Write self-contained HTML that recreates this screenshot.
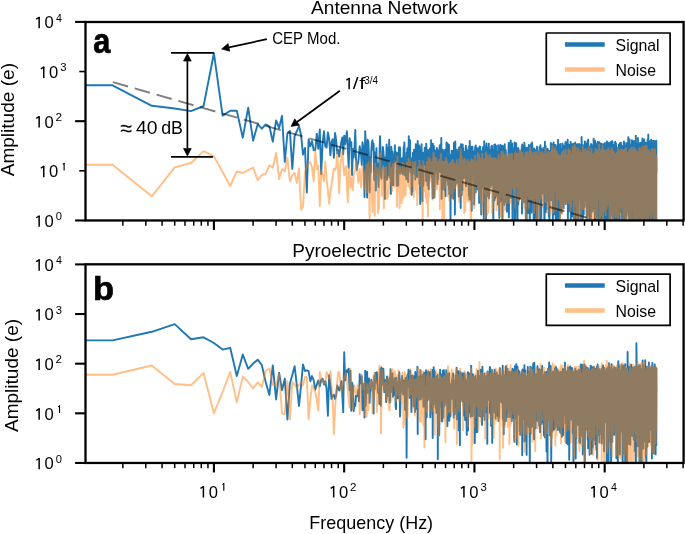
<!DOCTYPE html><html><head><meta charset="utf-8"><style>html,body{margin:0;padding:0;background:#fff;} svg{display:block;will-change:transform;} text{font-family:"Liberation Sans", sans-serif;}</style></head><body>
<svg width="685" height="534" viewBox="0 0 685 534">
<rect width="685" height="534" fill="#fff"/>
<clipPath id="ca"><rect x="85.5" y="22.0" width="598.1" height="198.46"/></clipPath><g clip-path="url(#ca)"><path d="M80.0,85.3L112.5,85.3 151.8,105.8 174.7,108.5 191.0,111.1 203.6,106.0 213.9,53.2 222.6,115.6 230.2,110.8 236.8,110.7 242.8,137.7 248.2,107.7 253.1,140.7 257.7,124.2 261.8,128.7 265.7,124.5 269.4,126.3 272.8,141.8 276.1,120.4 279.1,128.1 282.0,115.8 284.8,161.9 287.4,133.5 289.9,131.0 292.3,168.9 294.6,136.1 296.9,131.0 299.0,126.0 301.1,135.3 303.0,154.6 305.0,147.9 306.8,192.5 308.6,139.5 310.3,146.2 312.0,141.1 313.7,150.4 315.3,150.0 316.8,133.6 318.3,148.7 319.8,129.4 321.2,174.0 322.6,143.1 324.0,131.3 325.3,146.5 326.6,147.6 327.9,132.4 329.1,138.6 330.4,155.4 331.5,142.0 332.7,139.2 333.9,157.7 335.0,133.0 336.1,139.7 337.2,153.2 338.2,150.0 339.2,156.6 340.3,147.6 341.3,142.0 342.3,137.5 343.2,154.3 344.2,135.8 345.1,144.2 346.0,138.0 346.9,131.3 347.8,149.8 348.7,167.8 349.6,138.2 350.4,145.2 351.3,142.2 352.1,175.0 352.9,148.9 353.7,157.7 354.5,148.6 355.3,129.9 356.0,158.3 356.8,170.0 357.5,164.9 358.3,162.2 359.0,154.7 359.7,146.3 360.4,150.0 361.1,154.9 361.8,164.9 362.5,142.3 363.2,146.5 363.9,156.1 364.5,197.1 365.2,131.3 365.8,143.4 366.5,165.3 367.1,197.6 367.7,139.8 368.4,141.7 369.0,157.9 369.6,192.3 370.2,157.8 370.8,172.6 371.3,150.9 371.9,143.0 372.5,140.2 373.1,149.9 373.6,143.7 374.2,180.0 374.7,152.4 375.3,152.9 375.8,190.5 376.4,148.1 376.9,171.1 377.4,172.4 377.9,163.8 378.5,187.1 379.0,169.0 379.5,156.5 380.0,136.1 380.5,149.0 381.0,175.6 381.5,178.7 381.9,165.4 382.4,164.0 382.9,147.0 383.4,151.7 383.9,158.1 384.3,172.7 384.8,198.9 385.2,168.6 385.7,157.2 386.1,163.3 386.6,144.4 387.0,179.7 387.5,147.4 387.9,175.4 388.3,162.7 388.8,159.4 389.2,139.8 389.6,177.3 390.0,157.8 390.5,152.1 390.9,193.9 391.3,146.8 391.7,151.0 392.1,185.0 392.5,152.0 392.9,163.0 393.3,185.3 393.7,166.6 394.1,155.3 394.5,160.2 394.9,145.3 395.2,161.8 395.6,153.4 396.0,161.4 396.4,152.5 396.8,185.9 397.1,170.9 397.5,163.0 397.9,153.0 398.2,185.5 398.6,167.6 398.9,147.3 399.3,167.1 399.7,149.6 400.0,147.4 400.4,173.7 400.7,172.4 401.1,158.6 401.4,159.2 401.7,171.5 402.1,167.8 402.4,158.0 402.8,174.3 403.1,163.4 403.4,158.8 403.7,146.9 404.1,147.2 404.4,142.4 404.7,175.6 405.0,161.2 405.4,163.6 405.7,172.6 406.0,157.6 406.3,179.3 406.6,152.6 406.9,164.8 407.3,148.2 407.6,160.1 407.9,155.4 408.2,182.1 408.5,154.6 408.8,136.3 409.1,167.7 409.4,160.8 409.7,168.5 410.0,140.2 410.3,168.9 410.6,172.5 410.8,158.3 411.1,165.6 411.4,175.8 411.7,194.7 412.0,173.1 412.3,191.6 412.6,162.2 412.8,152.8 413.1,159.6 413.4,164.2 413.7,163.1 414.0,149.6 414.2,158.0 414.5,174.2 414.8,164.3 415.0,158.3 415.3,179.6 415.6,158.4 415.8,144.3 416.1,172.9 416.4,144.5 416.6,151.6 416.9,165.9 417.2,177.1 417.4,164.6 417.7,141.0 417.9,153.2 418.2,151.5 418.4,153.0 418.7,170.4 418.9,150.1 419.2,145.4 419.4,183.9 419.7,162.4 419.9,163.9 420.2,204.1 420.4,151.1 420.7,177.3 420.9,159.8 421.2,146.9 421.4,158.9 421.6,144.2 421.9,180.0 422.1,155.1 422.4,201.2 422.6,152.5 422.8,168.8 423.1,152.7 423.3,185.7 424.0,160.0 424.2,153.3 424.4,161.9 424.7,147.8 424.9,164.2 425.1,163.8 425.4,161.5 425.6,155.0 425.8,157.8 426.0,180.9 426.2,143.6 426.9,155.6 427.1,159.0 427.6,185.2 428.0,150.3 428.2,157.1 428.4,174.7 428.6,188.9 428.8,189.2 429.0,149.9 429.3,181.4 429.9,148.4 430.1,161.8 430.3,173.8 430.9,167.1 431.1,140.1 431.9,177.3 432.1,168.6 432.7,198.2 432.9,143.8 433.1,178.8 433.3,187.4 433.9,146.0 434.1,159.2 434.3,197.5 434.8,179.3 435.0,171.3 435.2,150.4 436.0,162.6 436.2,162.0 436.3,170.9 436.9,148.0 437.1,167.7 437.3,184.0 437.6,150.0 438.0,151.3 438.2,179.3 438.3,153.1 438.9,155.1 439.0,163.3 439.7,145.7 439.9,154.9 440.1,172.1 440.3,144.8 441.0,149.8 441.1,172.4 441.3,138.0 441.6,198.7 442.0,170.3 442.1,170.3 442.6,189.4 442.8,149.6 443.0,156.6 443.1,167.2 443.5,181.7 443.8,151.5 443.9,169.8 444.1,184.6 444.6,190.1 444.7,154.4 444.9,159.9 445.1,177.5 445.2,149.6 445.5,196.2 445.8,158.3 446.0,167.0 446.2,180.4 446.5,142.5 446.9,153.1 447.1,150.4 447.7,143.5 447.8,176.6 448.0,155.9 448.1,185.1 448.7,149.1 448.9,189.5 449.0,145.0 449.2,194.2 449.9,182.6 450.1,159.9 450.5,223.0 450.9,154.7 451.1,178.8 451.2,197.4 451.6,150.8 451.9,151.0 452.1,177.5 452.8,164.8 452.9,170.1 453.0,150.7 453.2,198.5 454.0,142.7 454.1,152.2 454.3,144.5 454.9,214.6 455.1,175.7 455.3,141.4 455.6,184.4 456.0,164.6 456.1,153.9 456.2,176.1 456.9,149.7 457.0,171.9 457.3,182.7 457.4,151.8 457.9,163.4 458.0,154.0 458.8,196.5 458.9,177.4 459.0,147.8 459.3,193.1 459.5,147.1 459.9,172.2 460.0,160.4 460.7,208.1 461.0,144.1 461.1,162.6 461.7,195.1 461.8,159.8 461.9,172.3 462.0,180.9 462.4,190.3 462.7,144.5 463.0,171.6 463.1,150.0 463.2,148.3 463.9,175.8 464.0,178.3 464.9,151.6 465.0,162.5 465.2,173.7 465.8,145.8 465.9,157.2 466.0,186.3 466.4,147.9 467.0,171.0 467.1,178.3 467.2,150.3 467.3,181.7 467.9,158.8 468.0,155.6 468.9,195.7 469.0,160.5 469.1,146.3 469.5,199.3 469.8,141.0 469.9,165.8 470.0,149.0 470.9,200.0 471.0,189.7 471.2,146.8 471.7,210.8 471.9,178.6 472.0,170.9 472.4,146.7 473.0,164.1 473.1,151.4 473.5,151.4 473.9,181.3 474.0,167.6 474.1,174.6 474.1,204.5 474.9,150.7 475.0,161.5 475.1,146.9 475.7,192.4 475.8,145.5 475.9,149.4 476.0,159.8 476.8,151.9 476.9,179.0 477.0,163.1 477.1,188.8 477.7,148.3 478.0,176.5 478.1,169.3 478.3,155.7 478.5,190.5 479.0,189.9 479.0,163.0 479.1,202.9 479.6,146.4 480.0,192.8 480.1,166.8 480.2,146.8 480.5,191.9 480.9,177.6 481.0,176.4 481.2,214.5 481.5,151.1 481.9,168.7 482.0,184.2 482.4,187.4 482.9,147.2 483.0,162.7 483.1,149.3 483.8,218.5 484.0,192.0 484.0,195.9 484.2,141.3 485.0,162.4 485.1,167.8 485.6,149.6 486.0,221.3 486.1,156.9 486.5,143.5 486.8,196.2 487.0,184.7 487.1,168.8 487.5,195.9 487.7,147.7 488.0,160.7 488.0,155.5 488.8,198.4 488.8,143.6 489.0,167.5 489.1,172.4 489.1,194.9 489.2,155.7 490.0,162.1 490.1,154.7 490.4,149.4 490.8,187.0 491.0,166.9 491.1,169.2 491.3,146.8 492.0,174.8 492.0,145.6 492.8,185.5 493.0,160.7 493.1,154.3 493.3,220.6 493.8,149.4 493.9,187.3 494.0,155.1 494.3,144.7 494.5,200.2 495.0,174.0 495.1,153.1 495.2,144.5 495.4,197.9 496.0,153.7 496.0,145.6 496.6,195.9 497.0,177.5 497.1,181.4 497.9,151.1 498.0,204.5 498.1,190.9 498.2,145.1 498.7,195.2 499.0,151.3 499.0,184.7 499.3,217.7 499.6,146.9 499.9,202.3 500.0,164.7 500.4,144.7 500.4,200.7 501.0,179.7 501.0,178.6 501.7,198.2 502.0,145.7 502.0,163.7 502.4,221.7 502.7,148.3 503.0,165.4 503.0,160.2 503.3,192.8 503.6,146.3 503.9,163.2 504.0,162.8 504.4,204.9 504.7,144.1 504.9,159.6 505.0,163.7 505.7,201.9 505.8,150.2 506.0,173.4 506.0,159.1 506.1,153.1 506.2,190.8 507.0,189.2 507.0,211.8 507.1,156.9 508.0,178.6 508.0,172.8 508.7,142.8 508.9,217.4 509.0,204.7 509.0,167.1 509.2,197.7 509.4,145.0 510.0,149.7 510.0,153.7 510.5,197.7 510.7,140.4 511.0,190.0 511.0,166.5 511.3,153.1 512.0,198.2 512.0,183.1 512.1,143.4 512.6,250.3 513.0,154.4 513.0,152.6 513.6,195.7 513.8,148.1 514.0,149.8 514.0,164.6 514.5,142.4 514.8,218.7 515.0,154.9 515.0,164.2 515.1,144.7 515.2,226.6 516.0,162.5 516.0,163.3 516.2,143.1 516.2,198.8 517.0,151.2 517.0,162.3 517.5,225.8 517.8,148.2 518.0,160.2 518.0,165.4 518.2,147.9 518.3,204.2 519.0,175.1 519.0,199.7 519.1,150.1 520.0,153.9 520.0,172.9 520.1,198.0 520.5,151.5 521.0,158.7 521.0,191.4 521.8,146.4 522.0,213.5 522.0,163.4 522.0,154.7 522.1,200.7 522.2,144.4 523.0,169.7 523.0,149.2 523.5,145.6 523.9,202.3 524.0,202.1 524.0,160.4 524.1,198.8 524.3,142.7 525.0,150.2 525.0,169.5 525.4,148.3 525.9,232.4 526.0,215.8 526.0,164.2 526.6,250.5 526.9,147.6 527.0,162.8 527.0,161.6 527.9,148.7 527.9,198.0 528.0,171.2 528.0,165.5 528.3,213.0 528.8,145.0 529.0,157.7 529.0,168.0 529.2,146.3 529.8,226.0 530.0,156.4 530.0,152.9 530.7,184.0 530.9,144.1 531.0,159.8 531.0,174.4 531.5,212.6 531.9,148.9 532.0,157.8 532.0,196.0 532.1,142.5 533.0,189.3 533.0,164.1 533.2,148.4 533.7,233.7 534.0,163.5 534.0,170.5 534.1,221.3 534.2,148.5 535.0,174.7 535.0,177.8 535.5,215.5 535.8,152.5 536.0,163.1 536.0,150.0 536.1,219.6 537.0,205.8 537.0,146.7 537.6,221.3 538.0,174.4 538.0,170.6 538.6,151.2 538.6,203.0 539.0,168.1 539.0,182.2 539.4,187.1 539.5,147.3 540.0,148.3 540.0,223.1 540.5,145.2 541.0,159.2 541.0,154.4 541.2,224.4 541.7,149.3 542.0,178.3 542.0,166.8 542.1,189.2 542.3,150.9 543.0,154.0 543.0,152.2 543.3,193.7 543.4,148.0 544.0,186.1 544.0,166.0 544.5,250.5 544.9,141.7 545.0,168.5 545.0,167.3 545.6,145.9 545.8,212.0 546.0,154.3 546.0,161.9 546.4,151.4 546.5,209.1 547.0,151.6 547.0,158.4 547.1,200.8 547.5,148.8 548.0,167.8 548.0,155.5 548.6,150.6 548.9,216.7 549.0,161.6 549.0,155.8 549.4,226.4 550.0,150.8 550.0,196.4 550.7,200.3 550.8,142.9 551.0,183.7 551.0,174.2 551.2,200.0 552.0,144.3 552.0,187.5 552.0,158.1 552.5,147.3 552.9,237.3 553.0,153.7 553.0,181.3 553.6,142.5 553.7,212.0 554.0,177.2 554.0,214.4 554.7,145.1 555.0,153.9 555.0,165.4 555.6,145.0 555.8,228.5 556.0,194.8 556.0,180.2 556.1,146.9 556.4,237.1 557.0,167.0 557.0,182.1 557.2,212.5 557.7,146.2 558.0,166.5 558.0,171.6 558.0,139.7 558.5,250.5 559.0,156.5 559.0,161.7 559.8,217.8 560.0,144.5 560.0,165.8 560.0,148.5 560.3,144.0 560.5,197.7 561.0,167.8 561.0,168.7 561.2,148.4 561.6,212.7 562.0,151.2 562.0,152.5 562.4,204.8 562.5,143.4 563.0,145.9 563.0,161.7 563.2,145.5 563.7,208.2 564.0,150.5 564.0,160.2 564.4,198.3 564.6,149.2 565.0,169.8 565.0,147.6 565.6,141.9 565.7,204.0 566.0,182.8 566.0,149.7 566.2,143.5 566.2,201.9 567.0,160.5 567.0,151.4 567.7,139.7 567.9,218.8 568.0,177.2 568.0,159.1 568.3,144.3 568.7,210.4 569.0,153.7 569.0,177.3 569.6,144.9 569.7,211.4 570.0,185.7 570.0,175.2 570.7,142.0 570.8,230.3 571.0,162.0 571.0,174.1 571.3,149.2 571.5,214.0 572.0,151.0 572.0,151.7 572.1,144.2 572.4,216.3 573.0,144.5 573.0,164.9 573.5,143.7 573.7,228.9 574.0,178.4 574.0,161.4 574.1,231.2 574.3,144.7 575.0,157.9 575.0,155.2 575.2,142.4 575.8,221.0 576.0,202.5 576.0,172.1 576.1,215.9 576.6,144.6 577.0,171.3 577.0,158.1 577.4,144.2 577.6,222.1 578.0,155.6 578.0,177.8 578.4,243.3 578.8,145.6 579.0,157.1 579.0,199.5 579.1,144.0 579.9,199.5 580.0,172.8 580.0,157.9 580.2,145.3 580.8,220.2 581.0,162.0 581.0,157.2 581.2,221.6 581.6,136.9 582.0,165.8 582.0,174.7 582.7,145.0 582.8,220.0 583.0,171.9 583.0,163.8 583.1,145.2 583.7,214.3 584.0,170.5 584.0,206.7 584.7,206.7 584.9,141.5 585.0,182.3 585.0,178.6 585.0,201.0 585.9,143.6 586.0,171.2 586.0,158.9 586.5,145.1 586.9,221.1 587.0,185.9 587.0,160.8 587.5,140.9 587.8,215.6 588.0,153.8 588.0,166.9 588.2,139.8 588.7,212.0 589.0,182.1 589.0,190.5 589.1,146.4 589.3,223.6 590.0,198.2 590.0,152.6 590.9,238.3 591.0,144.0 591.0,158.1 591.0,173.9 591.3,210.6 591.3,144.8 592.0,159.5 592.0,160.1 592.2,145.4 592.4,211.5 593.0,168.0 593.0,153.1 593.6,208.9 593.6,138.6 594.0,173.4 594.0,169.8 594.8,226.9 594.9,145.0 595.0,162.9 595.0,180.3 595.2,140.6 595.9,228.1 596.0,156.3 596.0,165.7 596.0,143.5 596.4,209.7 597.0,209.3 597.0,177.3 597.9,220.0 597.9,141.6 598.0,187.7 598.0,168.4 598.5,242.5 598.7,142.7 599.0,154.5 599.0,159.9 599.1,240.1 599.5,142.2 600.0,158.1 600.0,171.8 600.0,227.4 600.5,144.1 601.0,161.7 601.0,179.0 601.5,218.8 601.7,143.8 602.0,150.4 602.0,163.6 602.2,145.6 602.4,236.3 603.0,148.3 603.0,175.0 603.5,144.2 603.8,250.5 604.0,175.3 604.0,161.5 604.7,219.7 604.9,142.9 605.0,183.2 605.0,190.1 605.6,209.3 605.7,145.9 606.0,169.3 606.0,148.5 606.6,222.4 606.9,141.5 607.0,178.9 607.0,168.6 607.3,144.9 607.9,222.5 608.0,173.9 608.0,201.1 608.0,142.7 608.6,217.8 609.0,167.6 609.0,152.8 609.4,234.1 609.6,143.2 610.0,178.7 610.0,177.2 610.1,250.5 610.6,141.9 611.0,166.7 611.0,155.4 611.3,142.7 611.4,214.7 612.0,180.6 612.0,143.3 612.2,140.9 612.6,241.8 613.0,172.0 613.0,164.9 613.3,144.9 613.7,219.0 614.0,149.9 614.0,250.5 614.6,142.5 615.0,175.3 615.0,202.3 615.3,141.7 615.5,217.4 616.0,159.3 616.0,150.4 616.0,143.5 616.1,250.5 617.0,150.7 617.0,169.0 617.2,147.8 617.7,221.8 618.0,170.7 618.0,158.7 618.5,223.8 618.8,144.7 619.0,201.5 619.0,156.1 619.7,220.7 619.8,143.3 620.0,168.3 620.0,162.8 620.7,211.7 620.9,142.6 621.0,172.7 621.0,166.6 621.6,209.1 621.9,145.6 622.0,150.3 622.0,168.3 622.1,223.9 623.0,148.2 623.0,169.2 623.0,149.1 623.8,250.5 623.8,141.5 624.0,146.1 624.0,159.0 624.5,142.4 624.7,239.3 625.0,154.7 625.0,189.2 625.7,145.6 626.0,250.5 626.0,159.7 626.0,168.8 626.5,215.9 626.6,143.3 627.0,163.2 627.0,175.5 627.5,212.1 628.0,143.6 628.0,167.9 628.0,163.4 628.3,137.3 628.8,218.5 629.0,163.8 629.0,179.4 629.2,234.6 629.6,139.5 630.0,158.9 630.0,161.5 630.3,220.2 630.5,144.4 631.0,161.7 631.0,145.0 631.4,224.6 632.0,140.1 632.0,186.3 632.0,173.5 632.1,145.5 632.3,221.4 633.0,152.9 633.0,164.8 633.0,227.0 633.9,141.0 634.0,146.7 634.0,171.3 634.3,143.5 634.8,231.8 635.0,167.4 635.0,151.6 635.3,204.0 635.8,135.6 636.0,159.9 636.0,161.0 636.3,249.0 636.5,143.6 637.0,179.4 637.0,161.4 637.8,244.9 637.9,138.0 638.0,170.1 638.0,189.9 638.1,250.5 638.7,144.7 639.0,176.6 639.0,180.9 639.7,250.3 639.7,143.1 640.0,167.8 640.0,174.9 640.4,216.0 640.9,142.7 641.0,166.0 641.0,209.1 641.1,144.6 641.6,232.5 642.0,159.4 642.0,159.9 642.4,138.4 642.5,223.6 643.0,156.0 643.0,174.3 643.6,141.9 643.9,229.6 644.0,194.7 644.0,158.9 644.2,139.5 644.5,234.0 645.0,182.6 645.0,172.3 645.9,142.7 645.9,230.4 646.0,166.9 646.0,171.4 646.3,143.8 646.6,250.5 647.0,167.1 647.0,167.5 647.1,241.6 647.6,139.4 648.0,156.9 648.0,164.0 648.3,134.4 648.6,224.2 649.0,176.5 649.0,163.8 649.1,241.8 649.7,141.9 650.0,161.0 650.0,166.5 650.0,141.2 650.5,250.5 651.0,153.9 651.0,174.5 651.2,139.8 651.3,250.5 652.0,158.3 652.0,165.7 652.7,142.6 652.9,249.5 653.0,186.9 653.0,166.5 653.2,140.6 653.8,250.5 654.0,141.5 654.0,173.0 654.1,141.0 654.2,250.5 655.0,185.2 655.0,161.9 655.3,141.8 655.7,238.3 656.0,208.7 656.0,144.0 656.2,233.1 656.3,140.8 656.5,173.1" fill="none" stroke="#1f77b4" stroke-width="1.9" stroke-linejoin="round"/><path d="M80.0,164.8L112.5,164.8 151.8,196.3 174.7,167.4 191.0,163.0 203.6,151.1 213.9,156.4 222.6,172.0 230.2,186.0 236.8,171.5 242.8,173.0 248.2,170.2 253.1,167.6 257.7,180.2 261.8,175.0 265.7,173.8 269.4,165.3 272.8,167.8 276.1,153.0 279.1,179.1 282.0,169.1 284.8,171.4 287.4,157.6 289.9,181.4 292.3,175.3 294.6,173.0 296.9,183.0 299.0,168.4 301.1,209.8 303.0,206.7 305.0,172.0 306.8,165.6 308.6,163.9 310.3,162.2 312.0,167.2 313.7,181.5 315.3,150.5 316.8,169.2 318.3,165.4 319.8,206.2 321.2,170.8 322.6,175.0 324.0,181.5 325.3,161.5 326.6,178.5 327.9,190.0 329.1,203.8 330.4,192.0 331.5,184.6 332.7,176.0 333.9,168.5 335.0,170.0 336.1,167.7 337.2,151.5 338.2,172.0 339.2,193.1 340.3,165.0 341.3,158.0 342.3,150.0 343.2,163.0 344.2,175.4 345.1,170.0 346.0,166.2 346.9,185.0 347.8,202.3 348.7,167.7 349.6,169.8 350.4,188.0 351.3,182.5 352.1,177.4 352.9,190.0 353.7,174.5 354.5,172.9 355.3,169.9 356.0,161.2 356.8,166.0 357.5,172.0 358.3,182.8 359.0,180.5 359.7,168.9 360.4,177.6 361.1,187.5 361.8,179.4 362.5,167.0 363.2,174.0 363.9,173.0 364.5,188.7 365.2,171.0 365.8,175.0 366.5,165.3 367.1,192.6 367.7,175.1 368.4,162.2 369.0,179.7 369.6,218.3 370.2,167.5 370.8,185.7 371.3,159.0 371.9,192.7 372.5,212.2 373.1,183.6 373.6,187.8 374.2,172.7 374.7,215.7 375.3,163.7 375.8,175.2 376.4,168.4 376.9,172.9 377.4,168.5 377.9,212.9 378.5,170.0 379.0,209.0 379.5,183.5 380.0,153.1 380.5,166.3 381.0,169.0 381.5,174.6 381.9,195.7 382.4,170.2 382.9,173.9 383.4,187.4 383.9,208.4 384.3,167.9 384.8,169.0 385.2,181.6 385.7,194.8 386.1,167.0 386.6,186.0 387.0,199.1 387.5,195.7 387.9,190.3 388.3,196.5 388.8,189.3 389.2,179.1 389.6,161.4 390.0,178.5 390.5,184.6 390.9,169.6 391.3,167.7 391.7,181.4 392.1,191.0 392.5,170.0 392.9,164.2 393.3,172.4 393.7,167.5 394.1,169.0 394.5,186.9 394.9,162.6 395.2,175.8 395.6,161.6 396.0,176.4 396.4,170.5 396.8,194.3 397.1,206.7 397.5,156.3 397.9,173.6 398.2,189.3 398.6,191.3 398.9,182.9 399.3,168.1 399.7,208.3 400.0,167.3 400.4,172.6 400.7,173.5 401.1,174.7 401.4,177.6 401.7,203.1 402.1,175.8 402.4,170.1 402.8,162.9 403.1,172.0 403.4,193.9 403.7,197.6 404.1,165.2 404.4,171.7 404.7,174.3 405.0,174.0 405.4,171.8 405.7,195.4 406.0,176.3 406.3,170.2 406.6,175.6 406.9,162.9 407.3,169.3 407.6,177.1 407.9,167.6 408.2,186.3 408.5,158.8 408.8,171.5 409.1,178.2 409.4,159.2 409.7,188.2 410.0,188.9 410.3,162.7 410.6,193.7 410.8,172.0 411.1,170.6 411.4,185.2 411.7,174.3 412.0,168.3 412.3,173.4 412.6,186.2 412.8,161.9 413.1,172.0 413.4,184.1 413.7,197.2 414.0,174.5 414.2,187.2 414.5,182.0 414.8,177.4 415.0,162.2 415.3,162.0 415.6,189.8 415.8,183.2 416.1,179.4 416.4,182.1 416.6,193.3 416.9,177.0 417.2,205.0 417.4,188.0 417.7,194.1 417.9,167.1 418.2,181.4 418.4,171.4 418.7,170.3 418.9,167.9 419.2,179.6 419.4,160.4 419.7,165.8 419.9,171.6 420.2,185.3 420.4,172.6 420.7,168.2 420.9,166.0 421.2,178.7 421.4,184.3 421.6,167.3 421.9,193.4 422.1,185.3 422.4,177.1 422.6,238.9 422.8,172.4 423.1,186.3 423.3,161.3 424.0,180.0 424.2,191.0 424.4,179.3 424.7,191.0 424.9,166.7 425.1,183.5 425.4,171.1 425.6,197.0 425.8,166.3 426.0,181.4 426.5,202.8 426.9,162.2 427.1,170.5 427.3,166.3 428.0,216.2 428.2,189.0 428.4,174.8 428.6,157.5 428.8,197.0 429.0,181.9 429.3,183.2 429.7,174.3 429.9,177.7 430.1,168.0 430.3,159.5 430.5,174.3 430.9,172.3 431.1,178.6 431.7,168.8 431.9,181.3 432.1,162.2 432.5,199.6 432.9,189.2 433.1,159.3 433.7,152.6 433.9,177.8 434.1,183.2 434.3,159.4 434.6,197.4 434.8,171.1 435.0,169.7 435.2,157.5 436.0,179.6 436.2,158.6 436.9,189.3 437.1,182.3 437.3,161.8 437.4,182.4 438.0,170.4 438.2,183.3 438.5,172.3 438.9,184.4 439.0,165.0 439.4,159.8 439.9,209.2 440.1,165.8 440.4,194.8 441.0,153.7 441.1,168.7 441.3,165.7 441.6,196.7 442.0,172.2 442.1,161.2 442.3,223.9 443.0,163.1 443.1,170.6 443.5,183.7 443.9,162.2 444.1,219.0 444.3,161.7 444.9,181.3 445.1,163.1 445.2,187.1 445.8,160.8 446.0,171.7 446.3,157.6 446.5,182.1 446.9,170.5 447.1,161.2 448.0,196.2 448.1,166.5 448.3,164.4 448.9,197.0 449.0,166.9 449.3,200.4 449.9,181.0 450.1,163.1 450.6,178.3 450.9,171.1 451.1,171.9 451.2,193.4 451.6,161.1 451.9,169.0 452.1,185.0 452.2,160.3 452.3,198.6 452.9,174.4 453.0,160.0 453.3,191.3 454.0,167.7 454.1,166.3 454.3,163.9 454.4,188.4 454.9,170.0 455.1,172.2 455.3,187.9 455.6,167.3 456.0,170.3 456.1,173.8 456.4,162.3 456.6,175.7 456.9,170.5 457.0,160.3 457.3,185.9 457.9,178.7 458.0,186.1 458.3,164.6 458.9,168.7 459.0,189.2 459.2,202.2 459.6,158.8 459.9,172.2 460.0,196.4 460.7,148.9 461.0,170.2 461.1,161.9 461.2,193.8 461.8,156.5 461.9,185.9 462.0,161.5 462.4,185.7 463.0,182.3 463.1,180.3 463.5,165.0 463.7,202.1 463.9,170.2 464.0,159.6 464.2,213.0 464.6,158.7 464.9,161.4 465.0,175.6 465.3,210.7 465.8,169.9 465.9,173.9 466.0,182.0 466.2,166.6 466.4,198.7 467.0,179.3 467.1,163.3 467.5,159.7 467.8,201.0 467.9,171.0 468.0,160.9 468.5,190.4 469.0,165.0 469.1,180.8 469.3,201.5 469.9,162.2 470.0,166.1 470.7,221.3 470.9,167.1 471.0,174.2 471.2,226.0 471.3,159.3 471.9,177.3 472.0,174.6 472.5,200.8 472.6,164.1 473.0,164.2 473.1,164.4 473.2,160.0 473.9,193.9 474.0,182.4 474.1,164.0 474.3,208.2 475.0,185.5 475.1,155.6 475.9,185.2 476.0,183.7 476.4,161.8 476.6,184.5 476.9,165.9 477.0,164.9 477.7,188.6 478.0,153.2 478.1,155.7 479.0,192.8 479.0,170.1 479.1,155.4 479.9,195.8 480.0,161.1 480.1,168.7 480.3,158.4 480.4,200.9 480.9,177.6 481.0,195.4 481.7,159.6 481.8,213.1 481.9,192.8 482.0,167.1 482.3,153.8 482.8,201.7 483.0,184.6 483.1,173.1 483.5,159.8 483.8,193.2 484.0,176.3 484.0,167.7 484.2,159.0 484.5,192.2 485.0,184.2 485.1,173.2 485.6,222.6 485.8,152.7 486.0,174.6 486.1,184.9 486.4,191.6 487.0,157.3 487.1,161.3 487.1,215.1 487.5,155.1 488.0,173.0 488.0,158.3 488.4,212.6 489.0,168.7 489.1,192.7 489.7,154.9 490.0,167.4 490.1,170.4 490.3,160.6 491.0,193.8 491.1,179.6 491.6,158.3 491.7,183.9 492.0,171.3 492.0,175.1 492.1,213.4 492.2,158.0 493.0,164.1 493.1,166.5 493.4,207.9 493.9,161.7 493.9,166.7 494.0,166.7 494.4,158.3 494.5,196.3 495.0,180.8 495.1,184.5 495.4,191.0 495.8,159.0 496.0,190.5 496.0,164.8 496.2,162.1 496.5,210.3 497.0,176.8 497.1,162.0 497.1,196.4 497.5,161.3 498.0,184.7 498.1,157.4 498.5,201.1 498.6,155.0 499.0,167.7 499.0,161.4 499.2,207.5 499.8,161.2 499.9,165.3 500.0,170.1 500.2,216.7 501.0,156.7 501.0,171.3 501.4,152.0 501.8,193.3 502.0,167.2 502.0,168.9 502.6,198.8 502.8,151.8 503.0,160.9 503.0,230.9 503.9,154.6 503.9,174.6 504.0,172.7 504.2,155.8 504.2,207.9 504.9,183.4 505.0,184.5 505.2,209.9 505.7,158.6 506.0,175.0 506.0,168.1 506.1,154.0 507.0,202.5 507.0,172.8 507.6,155.7 507.7,182.6 508.0,172.7 508.0,164.3 508.6,196.0 508.9,155.4 509.0,169.1 509.0,163.3 509.2,203.0 509.6,153.9 510.0,170.0 510.0,157.3 510.5,155.1 510.9,203.0 511.0,178.8 511.0,176.1 511.4,189.6 511.4,162.0 512.0,165.7 512.0,153.6 512.4,187.6 513.0,164.3 513.0,168.2 513.1,160.4 514.0,196.3 514.0,168.7 514.8,198.1 514.9,153.2 515.0,175.8 515.0,160.9 515.4,207.9 515.7,152.5 516.0,179.8 516.0,163.2 516.4,153.6 516.8,186.6 517.0,177.7 517.0,178.9 517.4,185.5 517.9,153.8 518.0,166.0 518.0,159.5 518.1,200.8 518.6,154.3 519.0,175.3 519.0,171.2 519.5,182.6 519.6,149.2 520.0,155.0 520.0,163.2 520.3,198.6 520.3,155.7 521.0,159.5 521.0,152.0 521.9,200.5 522.0,175.1 522.0,176.9 522.3,202.0 522.6,152.7 523.0,167.0 523.0,193.1 523.8,158.6 524.0,189.4 524.0,163.3 524.1,207.8 524.3,157.0 525.0,174.9 525.0,168.7 525.7,152.6 525.9,233.0 526.0,190.4 526.0,162.8 526.2,200.2 526.3,160.7 527.0,165.5 527.0,180.0 527.1,196.1 527.6,151.6 528.0,164.6 528.0,159.5 528.7,207.7 528.9,153.6 529.0,161.2 529.0,163.8 529.5,157.1 529.9,186.2 530.0,174.8 530.0,149.1 530.2,147.7 530.7,199.3 531.0,159.9 531.0,185.7 531.1,151.9 531.2,199.0 532.0,176.7 532.0,180.6 532.2,156.1 532.4,193.8 533.0,175.3 533.0,166.3 533.1,202.9 533.2,152.9 534.0,172.9 534.0,167.4 534.2,212.8 535.0,152.3 535.0,191.8 535.2,198.4 535.4,156.2 536.0,156.5 536.0,183.7 536.9,192.7 537.0,151.7 537.0,165.1 537.0,219.7 537.9,156.3 538.0,163.5 538.0,189.8 538.6,156.9 538.9,203.9 539.0,177.2 539.0,183.5 539.3,228.7 539.5,151.5 540.0,187.6 540.0,184.8 540.7,152.0 541.0,193.4 541.0,181.3 541.0,177.2 541.3,155.8 541.4,198.4 542.0,174.1 542.0,162.6 542.6,152.1 542.9,206.4 543.0,190.7 543.0,183.4 543.0,155.6 543.3,189.0 544.0,179.7 544.0,158.9 544.5,154.1 544.9,193.5 545.0,179.1 545.0,169.8 545.3,202.0 545.4,148.5 546.0,168.8 546.0,157.7 546.4,154.2 546.7,201.6 547.0,176.4 547.0,163.6 547.6,212.8 547.8,154.1 548.0,155.2 548.0,166.0 548.3,151.7 548.4,204.9 549.0,162.2 549.0,176.6 549.4,206.6 549.5,155.7 550.0,163.3 550.0,169.9 550.1,152.4 550.2,214.6 551.0,176.2 551.0,178.9 551.0,198.7 551.1,151.4 552.0,159.3 552.0,155.4 552.4,145.5 552.6,213.3 553.0,195.6 553.0,168.7 553.2,149.4 553.8,211.8 554.0,179.4 554.0,188.4 554.7,151.8 555.0,178.4 555.0,167.0 555.1,147.6 555.3,190.6 556.0,166.3 556.0,186.5 556.5,210.0 556.8,150.9 557.0,159.0 557.0,189.8 557.3,207.7 557.8,154.2 558.0,170.5 558.0,167.6 558.3,155.0 558.5,198.7 559.0,164.3 559.0,177.3 559.2,194.5 559.9,155.8 560.0,185.9 560.0,168.3 560.0,240.7 560.9,155.9 561.0,184.4 561.0,194.7 561.6,213.5 561.9,153.7 562.0,181.8 562.0,182.6 562.2,152.2 562.2,213.8 563.0,172.7 563.0,198.4 563.1,208.4 563.4,150.9 564.0,168.9 564.0,171.5 564.5,204.7 564.9,156.4 565.0,183.0 565.0,167.9 565.5,149.4 565.6,198.9 566.0,180.2 566.0,164.7 566.0,203.9 566.1,154.7 567.0,167.7 567.0,161.5 567.9,155.5 567.9,201.5 568.0,174.8 568.0,178.5 568.3,203.2 568.4,149.2 569.0,182.0 569.0,179.9 569.3,197.7 569.5,151.2 570.0,169.0 570.0,168.7 570.1,150.8 570.4,210.9 571.0,170.5 571.0,171.3 571.1,154.7 571.4,206.6 572.0,166.6 572.0,188.6 572.7,146.9 572.7,199.2 573.0,167.4 573.0,176.0 573.8,153.2 574.0,225.7 574.0,173.2 574.0,169.9 574.6,145.0 574.8,205.9 575.0,168.1 575.0,176.8 575.1,193.1 575.9,148.0 576.0,171.8 576.0,170.4 576.2,153.2 576.4,219.3 577.0,180.9 577.0,203.3 577.3,229.6 577.7,155.5 578.0,191.0 578.0,165.3 578.0,147.9 578.4,216.4 579.0,163.8 579.0,165.1 579.8,211.0 580.0,150.4 580.0,165.6 580.0,166.4 580.3,233.6 580.9,155.4 581.0,173.8 581.0,189.0 581.0,218.8 581.9,152.7 582.0,168.1 582.0,178.5 582.1,209.3 582.8,146.3 583.0,173.2 583.0,156.8 583.7,153.4 583.8,209.0 584.0,164.5 584.0,188.2 584.6,151.2 584.7,200.7 585.0,171.7 585.0,188.7 585.2,149.1 585.6,206.2 586.0,166.7 586.0,169.7 586.1,152.4 586.1,236.7 587.0,160.5 587.0,167.9 587.0,151.2 587.7,217.3 588.0,162.0 588.0,170.8 588.3,217.5 588.6,147.2 589.0,157.3 589.0,180.0 589.0,203.0 589.2,153.2 590.0,166.2 590.0,173.4 590.4,152.5 590.4,228.7 591.0,191.1 591.0,188.2 591.1,216.4 591.4,148.9 592.0,202.3 592.0,190.1 592.0,241.4 593.0,154.5 593.0,158.0 593.0,183.6 593.3,209.8 593.6,154.6 594.0,177.2 594.0,176.0 594.8,152.7 595.0,220.2 595.0,163.7 595.0,168.1 595.3,237.3 595.5,149.0 596.0,194.7 596.0,177.4 596.2,212.0 596.8,151.4 597.0,193.2 597.0,183.5 597.4,234.3 597.7,150.4 598.0,164.9 598.0,162.8 598.8,199.8 598.8,151.6 599.0,171.9 599.0,179.3 599.2,144.8 600.0,228.6 600.0,188.5 600.0,165.0 600.4,151.9 600.8,213.1 601.0,165.5 601.0,173.2 601.3,215.4 601.7,149.7 602.0,158.5 602.0,180.6 602.6,145.4 603.0,229.1 603.0,167.8 603.0,187.0 603.4,208.1 603.5,151.0 604.0,159.2 604.0,187.0 604.2,210.7 604.3,150.4 605.0,186.3 605.0,170.5 605.6,215.2 605.9,153.8 606.0,161.3 606.0,156.7 606.3,150.4 606.6,209.1 607.0,155.0 607.0,167.4 607.5,205.5 608.0,149.5 608.0,161.3 608.5,148.2 608.9,200.2 609.0,176.2 609.0,165.7 609.5,154.1 609.5,231.0 610.0,184.2 610.0,186.0 610.7,150.4 611.0,200.0 611.0,163.1 611.0,166.5 611.0,219.1 611.9,147.9 612.0,161.2 612.0,166.3 612.1,153.0 612.9,220.8 613.0,168.1 613.0,224.6 613.6,151.6 614.0,167.5 614.0,206.1 614.2,211.5 614.5,154.4 615.0,167.2 615.0,172.5 615.2,217.4 615.9,154.5 616.0,215.5 616.0,160.6 616.6,153.1 617.0,216.5 617.0,171.5 617.0,168.0 617.1,216.4 617.8,148.2 618.0,165.7 618.0,163.9 618.1,229.3 618.3,149.7 619.0,163.5 619.0,180.1 619.7,207.4 619.9,152.2 620.0,168.8 620.0,161.9 620.1,151.2 620.4,215.1 621.0,177.5 621.0,200.8 621.2,149.2 621.3,205.5 622.0,169.6 622.0,187.9 622.3,207.5 622.9,152.4 623.0,192.1 623.0,165.3 623.2,150.3 623.4,224.1 624.0,168.7 624.0,185.9 624.1,149.8 624.9,211.1 625.0,172.1 625.0,170.6 625.5,220.5 625.9,147.9 626.0,161.6 626.0,170.5 626.2,222.1 626.8,152.5 627.0,171.7 627.0,187.2 627.2,229.1 627.9,155.1 628.0,177.6 628.0,182.8 628.8,151.6 628.9,227.8 629.0,158.7 629.0,167.9 629.4,149.4 629.8,222.4 630.0,193.3 630.0,165.1 630.0,151.6 630.8,223.5 631.0,169.6 631.0,163.7 631.5,147.4 631.8,226.2 632.0,165.0 632.0,186.6 632.0,210.5 632.6,152.3 633.0,163.2 633.0,155.4 633.7,147.4 633.9,229.0 634.0,166.2 634.0,182.5 634.1,236.5 635.0,149.8 635.0,194.1 635.0,179.1 635.7,149.4 635.7,228.6 636.0,168.4 636.0,177.7 636.1,225.4 636.5,151.4 637.0,193.7 637.0,178.6 637.5,152.3 637.5,243.6 638.0,180.0 638.0,168.6 638.2,152.5 638.9,216.8 639.0,163.5 639.0,174.0 639.4,148.4 639.9,220.5 640.0,189.4 640.0,179.0 640.5,151.7 640.5,217.9 641.0,174.2 641.0,181.4 641.1,148.8 641.5,229.8 642.0,168.8 642.0,191.1 642.5,233.6 642.6,146.6 643.0,154.3 643.0,158.8 643.0,149.9 643.2,233.6 644.0,161.8 644.0,166.8 644.2,230.6 644.7,146.1 645.0,164.8 645.0,162.3 645.5,154.5 646.0,222.8 646.0,169.0 646.0,174.4 646.6,145.7 646.9,210.1 647.0,157.2 647.0,184.6 647.6,212.9 647.7,150.1 648.0,177.8 648.0,181.9 648.1,239.7 649.0,150.2 649.0,175.8 649.0,186.6 649.6,151.1 650.0,214.5 650.0,179.8 650.0,156.2 650.4,152.6 650.8,228.2 651.0,190.5 651.0,173.6 651.8,149.2 651.8,211.8 652.0,160.0 652.0,168.5 652.3,210.9 652.8,149.8 653.0,161.4 653.0,174.5 653.2,216.9 653.5,151.3 654.0,176.0 654.0,173.9 654.4,237.0 654.5,148.7 655.0,165.3 655.0,161.7 655.1,150.0 655.8,225.0 656.0,174.1 656.0,162.5 656.3,227.7 656.5,155.3 656.5,168.9" fill="none" stroke="#ff7f0e" stroke-width="1.9" stroke-linejoin="round" stroke-opacity="0.5"/></g>
<rect x="85.50" y="22.00" width="598.10" height="198.46" fill="none" stroke="#000" stroke-width="2.3"/>
<line x1="75.10" y1="220.46" x2="85.50" y2="220.46" stroke="#000" stroke-width="2.1" />
<line x1="79.30" y1="170.82" x2="85.50" y2="170.82" stroke="#000" stroke-width="1.6" />
<line x1="75.10" y1="121.18" x2="85.50" y2="121.18" stroke="#000" stroke-width="2.1" />
<line x1="79.30" y1="71.54" x2="85.50" y2="71.54" stroke="#000" stroke-width="1.6" />
<line x1="75.10" y1="21.90" x2="85.50" y2="21.90" stroke="#000" stroke-width="2.1" />
<line x1="122.86" y1="220.46" x2="122.86" y2="225.66" stroke="#000" stroke-width="1.5" />
<line x1="145.80" y1="220.46" x2="145.80" y2="225.66" stroke="#000" stroke-width="1.5" />
<line x1="162.07" y1="220.46" x2="162.07" y2="225.66" stroke="#000" stroke-width="1.5" />
<line x1="174.70" y1="220.46" x2="174.70" y2="225.66" stroke="#000" stroke-width="1.5" />
<line x1="185.01" y1="220.46" x2="185.01" y2="225.66" stroke="#000" stroke-width="1.5" />
<line x1="193.73" y1="220.46" x2="193.73" y2="225.66" stroke="#000" stroke-width="1.5" />
<line x1="201.29" y1="220.46" x2="201.29" y2="225.66" stroke="#000" stroke-width="1.5" />
<line x1="207.95" y1="220.46" x2="207.95" y2="225.66" stroke="#000" stroke-width="1.5" />
<line x1="213.91" y1="220.46" x2="213.91" y2="229.96" stroke="#000" stroke-width="2.1" />
<line x1="253.12" y1="220.46" x2="253.12" y2="225.66" stroke="#000" stroke-width="1.5" />
<line x1="276.06" y1="220.46" x2="276.06" y2="225.66" stroke="#000" stroke-width="1.5" />
<line x1="292.33" y1="220.46" x2="292.33" y2="225.66" stroke="#000" stroke-width="1.5" />
<line x1="304.96" y1="220.46" x2="304.96" y2="225.66" stroke="#000" stroke-width="1.5" />
<line x1="315.27" y1="220.46" x2="315.27" y2="225.66" stroke="#000" stroke-width="1.5" />
<line x1="323.99" y1="220.46" x2="323.99" y2="225.66" stroke="#000" stroke-width="1.5" />
<line x1="331.55" y1="220.46" x2="331.55" y2="225.66" stroke="#000" stroke-width="1.5" />
<line x1="338.21" y1="220.46" x2="338.21" y2="225.66" stroke="#000" stroke-width="1.5" />
<line x1="344.17" y1="220.46" x2="344.17" y2="229.96" stroke="#000" stroke-width="2.1" />
<line x1="383.38" y1="220.46" x2="383.38" y2="225.66" stroke="#000" stroke-width="1.5" />
<line x1="406.32" y1="220.46" x2="406.32" y2="225.66" stroke="#000" stroke-width="1.5" />
<line x1="422.59" y1="220.46" x2="422.59" y2="225.66" stroke="#000" stroke-width="1.5" />
<line x1="435.22" y1="220.46" x2="435.22" y2="225.66" stroke="#000" stroke-width="1.5" />
<line x1="445.53" y1="220.46" x2="445.53" y2="225.66" stroke="#000" stroke-width="1.5" />
<line x1="454.25" y1="220.46" x2="454.25" y2="225.66" stroke="#000" stroke-width="1.5" />
<line x1="461.81" y1="220.46" x2="461.81" y2="225.66" stroke="#000" stroke-width="1.5" />
<line x1="468.47" y1="220.46" x2="468.47" y2="225.66" stroke="#000" stroke-width="1.5" />
<line x1="474.43" y1="220.46" x2="474.43" y2="229.96" stroke="#000" stroke-width="2.1" />
<line x1="513.64" y1="220.46" x2="513.64" y2="225.66" stroke="#000" stroke-width="1.5" />
<line x1="536.58" y1="220.46" x2="536.58" y2="225.66" stroke="#000" stroke-width="1.5" />
<line x1="552.85" y1="220.46" x2="552.85" y2="225.66" stroke="#000" stroke-width="1.5" />
<line x1="565.48" y1="220.46" x2="565.48" y2="225.66" stroke="#000" stroke-width="1.5" />
<line x1="575.79" y1="220.46" x2="575.79" y2="225.66" stroke="#000" stroke-width="1.5" />
<line x1="584.51" y1="220.46" x2="584.51" y2="225.66" stroke="#000" stroke-width="1.5" />
<line x1="592.07" y1="220.46" x2="592.07" y2="225.66" stroke="#000" stroke-width="1.5" />
<line x1="598.73" y1="220.46" x2="598.73" y2="225.66" stroke="#000" stroke-width="1.5" />
<line x1="604.69" y1="220.46" x2="604.69" y2="229.96" stroke="#000" stroke-width="2.1" />
<line x1="643.90" y1="220.46" x2="643.90" y2="225.66" stroke="#000" stroke-width="1.5" />
<line x1="666.84" y1="220.46" x2="666.84" y2="225.66" stroke="#000" stroke-width="1.5" />
<line x1="683.11" y1="220.46" x2="683.11" y2="225.66" stroke="#000" stroke-width="1.5" />
<clipPath id="cb"><rect x="85.5" y="264.3" width="598.1" height="198.65999999999997"/></clipPath><g clip-path="url(#cb)"><path d="M80.0,340.4L112.5,340.4 151.8,331.8 174.7,324.1 191.0,339.2 203.6,337.3 213.9,343.0 222.6,349.6 230.2,347.8 236.8,376.0 242.8,354.5 248.2,368.8 253.1,363.5 257.7,359.7 261.8,365.0 265.7,382.0 269.4,395.0 272.8,365.4 276.1,399.5 279.1,372.7 282.0,390.2 284.8,378.7 287.4,419.5 289.9,383.5 292.3,375.0 294.6,366.2 296.9,386.0 299.0,406.0 301.1,385.0 303.0,364.4 305.0,371.1 306.8,370.3 308.6,371.1 310.3,381.2 312.0,376.1 313.7,380.4 315.3,389.6 316.8,384.6 318.3,380.4 319.8,386.2 321.2,380.0 322.6,378.7 324.0,384.6 325.3,381.2 326.6,388.8 327.9,415.7 329.1,375.3 330.4,386.2 331.5,398.9 332.7,395.5 333.9,394.7 335.0,398.9 336.1,396.0 337.2,385.4 338.2,388.0 339.2,390.5 340.3,387.1 341.3,381.2 342.3,395.0 343.2,412.3 344.2,352.1 345.1,380.4 346.0,375.0 346.9,370.3 347.8,372.0 348.7,368.6 349.6,390.2 350.4,370.6 351.3,410.7 352.1,382.8 352.9,386.1 353.7,411.2 354.5,404.0 355.3,405.9 356.0,395.8 356.8,396.4 357.5,395.3 358.3,389.9 359.0,401.3 359.7,374.2 360.4,383.4 361.1,378.1 361.8,376.1 362.5,410.3 363.2,384.3 363.9,384.2 364.5,417.5 365.2,370.8 365.8,405.7 366.5,384.6 367.1,371.6 367.7,392.7 368.4,390.2 369.0,378.5 369.6,402.7 370.2,386.9 370.8,390.7 371.3,379.8 371.9,382.7 372.5,386.2 373.1,383.8 373.6,413.6 374.2,375.9 374.7,389.3 375.3,372.8 375.8,382.5 376.4,374.2 376.9,372.1 377.4,381.8 377.9,392.5 378.5,393.4 379.0,390.1 379.5,404.1 380.0,375.9 380.5,368.4 381.0,405.8 381.5,367.5 381.9,382.5 382.4,384.7 382.9,378.1 383.4,368.7 383.9,382.0 384.3,392.1 384.8,386.0 385.2,381.9 385.7,380.0 386.1,402.1 386.6,396.8 387.0,376.5 387.5,389.4 387.9,396.1 388.3,394.4 388.8,384.7 389.2,378.8 389.6,402.6 390.0,401.4 390.5,369.2 390.9,389.0 391.3,381.6 391.7,387.2 392.1,392.1 392.5,373.4 392.9,396.7 393.3,395.5 393.7,392.6 394.1,379.3 394.5,383.5 394.9,378.2 395.2,383.1 395.6,405.9 396.0,409.1 396.4,377.7 396.8,394.1 397.1,381.4 397.5,383.1 397.9,398.4 398.2,381.5 398.6,398.0 398.9,376.6 399.3,372.3 399.7,381.7 400.0,416.5 400.4,406.8 400.7,386.1 401.1,383.7 401.4,389.3 401.7,380.6 402.1,376.0 402.4,392.2 402.8,381.3 403.1,394.4 403.4,383.4 403.7,380.5 404.1,384.6 404.4,390.9 404.7,387.7 405.0,409.8 405.4,378.2 405.7,377.9 406.0,388.3 406.3,381.7 406.6,457.8 406.9,392.8 407.3,375.5 407.6,387.0 407.9,386.7 408.2,376.9 408.5,369.7 408.8,374.4 409.1,381.0 409.4,397.8 409.7,383.7 410.0,391.9 410.3,370.7 410.6,385.5 410.8,375.9 411.1,380.4 411.4,412.1 411.7,377.7 412.0,378.5 412.3,375.7 412.6,382.3 412.8,375.9 413.1,385.4 413.4,387.5 413.7,406.2 414.0,379.9 414.2,376.4 414.5,377.6 414.8,397.3 415.0,412.1 415.3,372.0 415.6,383.5 415.8,383.3 416.1,383.6 416.4,385.7 416.6,408.9 416.9,377.4 417.2,380.4 417.4,366.8 417.7,434.1 417.9,381.2 418.2,399.9 418.4,390.6 418.7,387.5 418.9,392.2 419.2,376.4 419.4,384.9 419.7,383.9 419.9,399.5 420.2,384.6 420.4,370.1 420.7,375.2 420.9,399.2 421.2,390.6 421.4,376.7 421.6,396.6 421.9,391.8 422.1,387.5 422.4,390.9 422.6,396.9 422.8,374.8 423.1,391.0 423.5,406.7 424.0,372.6 424.2,377.4 424.4,387.9 424.7,390.3 424.9,374.4 425.1,396.2 425.4,410.3 425.6,439.2 425.8,372.3 426.0,370.3 426.7,417.3 426.9,380.5 427.1,384.6 427.3,372.5 427.6,400.3 428.0,388.7 428.2,382.3 428.4,398.7 428.6,371.5 428.8,391.9 429.0,381.4 429.5,390.3 429.7,378.4 429.9,383.0 430.1,372.1 430.3,417.4 430.9,403.2 431.1,394.8 431.3,379.3 431.9,385.5 432.1,381.9 432.5,369.9 432.7,438.1 432.9,393.9 433.1,382.6 433.5,386.7 433.7,367.3 433.9,381.5 434.1,370.6 434.6,404.4 434.8,371.6 435.0,386.4 435.2,385.4 435.6,407.7 436.0,386.5 436.2,394.4 436.3,412.8 436.9,376.0 437.1,409.8 437.6,375.0 437.8,459.2 438.0,394.6 438.2,383.0 438.5,379.2 438.7,418.5 438.9,391.6 439.0,381.4 439.2,435.2 439.9,390.5 440.1,369.8 440.3,406.5 441.0,373.9 441.1,389.3 441.3,386.1 442.0,421.6 442.1,391.1 442.5,405.5 443.0,370.5 443.1,386.8 443.3,417.6 443.9,370.2 444.1,374.2 444.4,406.2 444.9,388.5 445.1,381.1 445.2,390.0 445.4,375.2 445.8,379.0 446.0,393.6 446.2,370.1 446.5,404.5 446.9,393.0 447.1,393.9 447.4,426.2 447.7,373.4 448.0,389.2 448.1,398.5 448.4,380.4 448.9,387.5 449.0,373.3 449.3,420.8 449.9,390.4 450.1,389.1 450.3,416.4 450.6,384.2 450.9,391.4 451.1,394.9 451.2,397.3 451.8,380.2 451.9,382.2 452.1,398.8 452.5,376.9 452.9,381.3 453.0,373.4 453.7,417.6 454.0,381.0 454.1,402.6 454.7,414.3 454.9,380.1 455.1,390.2 455.6,375.2 455.7,406.3 456.0,388.1 456.1,388.7 456.6,367.7 456.8,419.4 456.9,392.5 457.0,417.8 457.3,370.9 457.9,385.2 458.0,375.2 458.5,371.3 458.7,430.3 458.9,386.7 459.0,381.2 459.2,375.5 459.9,445.3 460.0,401.5 460.3,402.1 460.5,371.9 461.0,394.8 461.1,384.0 461.2,395.5 461.6,374.1 461.9,384.5 462.0,397.7 462.6,401.5 462.7,373.1 463.0,387.2 463.1,378.7 463.9,415.8 464.0,403.3 464.2,413.3 464.5,373.2 464.9,378.9 465.0,384.0 465.1,420.0 465.3,378.8 465.9,380.4 466.0,391.2 466.8,434.9 466.9,382.7 467.0,396.5 467.1,429.1 467.8,372.2 467.9,403.1 468.0,430.5 469.0,373.3 469.1,378.2 469.6,412.2 469.9,388.5 470.0,395.8 470.2,375.0 470.7,416.7 470.9,399.5 471.0,396.3 471.2,365.6 471.8,400.6 471.9,383.5 472.0,410.6 472.6,416.1 472.9,374.1 473.0,395.9 473.1,379.8 473.3,403.3 473.4,376.7 474.0,379.8 474.1,391.5 474.6,377.4 474.8,443.0 475.0,391.0 475.1,387.9 475.5,415.5 475.6,375.7 475.9,387.0 476.0,432.2 476.3,379.0 476.9,394.8 477.0,392.4 477.3,432.1 478.0,370.8 478.1,396.6 478.3,379.0 479.0,405.0 479.0,395.2 479.3,416.0 479.7,375.8 480.0,381.7 480.1,392.5 480.3,409.0 480.6,369.8 480.9,390.2 481.0,416.8 481.8,377.7 481.9,404.2 482.0,424.9 482.4,366.6 483.0,416.0 483.1,386.8 483.6,386.5 483.9,412.9 484.0,400.4 484.0,410.3 484.6,373.8 484.7,419.9 485.0,392.2 485.1,405.3 485.3,380.2 485.8,411.7 486.0,381.0 486.1,376.8 486.4,412.1 487.0,375.1 487.1,386.1 487.3,443.7 487.5,371.4 488.0,381.8 488.0,394.7 488.2,372.4 488.5,400.0 489.0,394.6 489.1,394.5 489.8,366.9 490.0,413.0 490.1,369.2 490.1,367.4 491.0,425.8 491.1,388.6 491.5,423.7 491.7,373.6 492.0,392.5 492.0,404.4 492.1,370.0 492.2,442.9 493.0,383.4 493.1,388.1 493.4,373.9 493.5,405.2 493.9,373.9 494.0,385.9 494.4,412.2 494.7,369.8 495.0,374.3 495.1,385.3 495.2,376.4 495.6,418.5 496.0,385.7 496.0,414.2 496.7,372.7 497.0,384.3 497.1,401.8 497.6,415.9 497.9,379.6 498.0,404.5 498.1,375.5 498.5,421.1 499.0,382.8 499.0,417.5 499.9,368.3 500.0,391.3 500.3,374.7 500.8,401.4 501.0,377.4 501.0,382.5 501.5,402.6 501.7,377.8 502.0,387.2 502.0,387.8 502.7,365.7 502.8,419.3 503.0,384.5 503.0,388.8 503.4,371.1 503.7,434.2 503.9,375.6 504.0,377.2 504.1,374.8 504.3,424.3 504.9,394.8 505.0,404.8 505.9,421.1 506.0,366.3 506.0,391.6 506.4,414.1 506.7,375.6 507.0,397.9 507.0,403.4 507.5,368.8 507.9,417.3 508.0,392.6 508.0,382.1 508.6,401.2 508.7,373.6 509.0,378.5 509.0,395.8 509.3,371.6 509.5,411.7 510.0,388.7 510.0,386.0 510.1,417.0 510.6,372.8 511.0,382.1 511.0,375.6 511.5,371.4 511.8,421.0 512.0,381.0 512.0,404.6 512.5,368.8 512.7,416.6 513.0,382.7 513.0,382.5 513.2,369.4 513.7,418.2 514.0,406.8 514.0,377.7 514.3,441.7 514.9,366.3 515.0,384.5 515.0,376.4 515.3,367.8 515.5,418.5 516.0,386.9 516.0,410.7 516.3,364.2 516.9,444.4 517.0,411.1 517.0,377.0 517.4,415.6 517.5,366.8 518.0,380.9 518.0,375.6 518.2,413.8 518.6,370.5 519.0,396.1 519.0,407.4 519.5,371.8 519.6,430.9 520.0,389.6 520.0,391.2 520.1,434.8 520.5,374.5 521.0,376.4 521.0,385.0 521.8,421.1 522.0,371.0 522.0,388.7 522.0,370.9 522.2,455.3 522.5,369.5 523.0,418.1 523.0,419.1 523.4,371.7 524.0,376.7 524.0,415.8 524.4,365.3 524.5,441.6 525.0,408.2 525.0,382.4 525.2,439.9 525.3,370.2 526.0,402.6 526.0,381.5 526.6,454.9 527.0,376.3 527.0,424.3 527.1,425.2 527.8,366.9 528.0,382.5 528.0,374.1 528.3,371.2 528.7,427.1 529.0,389.8 529.0,381.7 529.2,378.0 529.8,465.4 530.0,382.5 530.0,396.6 530.3,366.8 530.7,433.5 531.0,396.4 531.0,384.3 531.3,381.6 531.7,418.4 532.0,395.5 532.0,379.0 532.1,426.7 532.3,367.1 533.0,367.5 533.0,394.0 533.2,363.8 533.9,420.8 534.0,393.4 534.0,388.0 534.1,439.4 534.3,362.6 535.0,403.7 535.0,394.3 535.2,376.7 535.6,428.3 536.0,386.6 536.0,388.1 536.1,415.9 536.4,373.9 537.0,392.7 537.0,375.0 537.5,420.7 537.5,366.2 538.0,404.2 538.0,370.3 538.9,422.2 539.0,403.1 539.0,401.2 539.1,425.5 539.5,369.1 540.0,390.6 540.0,410.2 540.1,432.3 540.7,374.3 541.0,395.1 541.0,394.5 541.3,369.9 541.5,424.0 542.0,379.9 542.0,379.6 542.1,365.9 542.2,422.0 543.0,392.2 543.0,419.3 543.3,375.2 543.9,435.3 544.0,388.2 544.0,432.5 544.5,372.2 544.7,437.3 545.0,387.5 545.0,377.2 545.1,372.4 545.7,431.8 546.0,415.6 546.0,391.8 546.5,451.5 546.6,371.8 547.0,399.3 547.0,373.3 547.5,466.6 547.9,368.8 548.0,398.1 548.0,377.7 548.3,418.8 548.9,368.2 549.0,390.5 549.0,392.1 549.1,362.4 550.0,435.3 550.0,380.5 550.6,418.5 550.7,365.9 551.0,389.1 551.0,388.2 551.2,462.5 552.0,373.1 552.0,387.3 552.3,431.8 552.8,373.7 553.0,397.2 553.0,386.6 553.1,371.2 553.6,429.7 554.0,405.6 554.0,375.6 554.5,429.3 554.8,371.7 555.0,381.8 555.0,404.5 555.0,368.3 555.5,427.6 556.0,390.0 556.0,381.8 556.0,367.0 556.2,423.5 557.0,384.6 557.0,385.7 557.1,369.4 557.6,429.9 558.0,382.3 558.0,393.2 558.5,371.1 558.5,416.1 559.0,385.6 559.0,396.9 559.1,372.9 559.7,430.8 560.0,390.8 560.0,387.1 560.3,432.7 560.7,371.9 561.0,389.0 561.0,389.9 561.5,371.9 561.8,436.7 562.0,388.2 562.0,394.6 562.6,424.5 562.7,369.0 563.0,381.6 563.0,384.2 563.2,435.0 563.6,369.5 564.0,389.0 564.0,406.5 564.2,370.8 564.6,415.4 565.0,400.2 565.0,381.5 565.0,362.7 565.5,423.4 566.0,371.2 566.0,378.5 566.3,443.0 566.8,372.9 567.0,385.0 567.0,400.8 567.8,444.4 567.9,367.4 568.0,398.3 568.0,393.0 568.1,424.5 568.6,371.4 569.0,390.7 569.0,367.9 569.2,459.8 570.0,387.1 570.0,383.3 570.1,419.0 570.1,366.4 571.0,386.0 571.0,378.7 571.5,419.8 571.8,367.9 572.0,396.7 572.0,377.7 572.2,368.5 572.7,433.3 573.0,384.9 573.0,401.0 573.3,373.8 573.4,473.4 574.0,406.1 574.0,443.5 574.3,371.3 575.0,378.8 575.0,383.7 575.2,368.7 575.7,458.6 576.0,400.2 576.0,401.2 576.2,438.8 576.3,370.7 577.0,380.6 577.0,376.2 577.1,371.1 577.3,424.2 578.0,376.3 578.0,400.9 578.2,425.0 578.9,369.6 579.0,392.5 579.0,384.9 579.4,441.7 579.6,371.9 580.0,411.9 580.0,378.9 580.1,443.0 580.8,364.5 581.0,387.0 581.0,396.0 581.6,369.9 581.6,435.8 582.0,380.7 582.0,385.4 582.4,364.6 582.8,454.4 583.0,395.9 583.0,385.7 583.1,423.5 583.5,369.5 584.0,376.8 584.0,391.4 584.4,364.4 584.8,463.5 585.0,381.6 585.0,407.7 585.6,429.1 585.7,366.8 586.0,405.2 586.0,377.4 586.1,367.4 586.4,429.2 587.0,378.2 587.0,393.2 587.7,439.8 587.8,367.9 588.0,379.7 588.0,389.9 588.1,448.2 589.0,369.7 589.0,377.0 589.0,389.4 589.6,454.7 589.6,371.5 590.0,396.3 590.0,391.0 590.6,365.7 590.6,422.0 591.0,418.4 591.0,391.4 591.7,453.7 591.8,366.8 592.0,382.7 592.0,390.4 592.7,367.9 592.8,447.6 593.0,394.7 593.0,390.4 593.1,431.7 593.8,366.9 594.0,394.3 594.0,395.4 594.1,440.0 594.6,367.9 595.0,401.1 595.0,395.2 595.5,444.6 595.7,369.2 596.0,383.9 596.0,385.8 596.4,449.9 597.0,366.4 597.0,399.7 597.0,394.7 597.0,458.1 597.7,364.5 598.0,391.6 598.0,408.5 598.3,371.6 598.4,435.0 599.0,386.0 599.0,392.1 599.4,369.3 599.5,442.4 600.0,402.4 600.0,434.2 600.3,371.5 601.0,410.1 601.0,421.2 601.5,369.0 601.9,443.4 602.0,385.1 602.0,424.9 602.7,366.1 603.0,382.1 603.0,394.2 603.0,365.4 603.5,437.9 604.0,375.0 604.0,397.8 604.1,451.3 604.1,367.9 605.0,375.9 605.0,374.5 605.9,422.4 606.0,371.0 606.0,395.0 606.0,386.9 606.6,368.4 606.7,465.4 607.0,383.4 607.0,382.8 607.3,421.6 607.5,369.4 608.0,407.0 608.0,402.8 608.3,366.5 608.6,464.6 609.0,383.1 609.0,395.4 609.0,363.3 609.8,431.5 610.0,390.9 610.0,390.0 610.4,368.2 610.6,442.5 611.0,388.1 611.0,381.3 611.1,493.0 611.5,364.1 612.0,383.8 612.0,382.3 612.3,441.9 612.5,369.2 613.0,391.5 613.0,387.1 613.6,433.3 613.8,369.6 614.0,387.3 614.0,384.0 614.1,367.1 614.2,434.7 615.0,406.4 615.0,399.8 615.6,426.2 615.9,367.7 616.0,381.3 616.0,415.4 616.0,370.6 616.4,458.2 617.0,385.7 617.0,383.0 617.6,369.4 617.9,466.0 618.0,400.3 618.0,373.6 618.3,361.1 618.8,427.3 619.0,378.1 619.0,395.0 619.1,365.5 620.0,454.5 620.0,414.7 620.4,370.8 620.8,430.8 621.0,382.7 621.0,387.6 621.5,364.5 621.8,431.8 622.0,385.6 622.0,382.6 622.7,465.3 622.9,368.1 623.0,402.3 623.0,399.3 623.1,443.4 623.4,365.5 624.0,390.4 624.0,402.4 624.5,453.9 624.8,370.1 625.0,390.3 625.0,395.1 625.2,364.2 625.2,493.0 626.0,394.5 626.0,437.6 626.2,452.7 626.8,368.6 627.0,407.9 627.0,417.1 627.0,471.2 627.6,352.0 628.0,392.2 628.0,431.1 628.6,443.9 628.7,369.9 629.0,388.8 629.0,377.2 629.2,366.6 630.0,441.2 630.0,377.0 630.0,388.7 630.3,444.8 630.5,368.4 631.0,407.9 631.0,379.7 631.1,364.6 631.9,433.8 632.0,399.9 632.0,397.5 632.3,436.1 632.7,367.4 633.0,405.7 633.0,412.9 633.8,439.7 633.9,372.2 634.0,382.5 634.0,381.3 634.6,366.7 634.9,450.9 635.0,379.3 635.0,400.5 635.9,469.0 636.0,367.9 636.0,388.4 636.0,379.6 636.4,438.2 636.4,343.2 637.0,390.3 637.0,392.8 637.1,446.1 637.4,366.7 638.0,379.0 638.0,399.7 638.2,446.4 638.3,368.1 639.0,420.9 639.0,387.7 639.1,365.1 639.5,479.4 640.0,389.0 640.0,379.4 640.1,365.4 640.6,434.8 641.0,373.2 641.0,392.4 641.6,465.1 641.8,368.4 642.0,385.5 642.0,372.8 642.3,434.2 642.6,360.4 643.0,420.9 643.0,374.1 643.1,364.7 643.3,448.7 644.0,379.7 644.0,425.0 644.4,368.9 644.4,441.2 645.0,391.8 645.0,411.6 645.2,360.2 645.9,457.4 646.0,426.9 646.0,397.0 646.3,477.5 646.7,366.6 647.0,390.0 647.0,388.2 647.2,446.7 647.3,367.8 648.0,398.6 648.0,397.4 648.3,442.2 648.9,362.4 649.0,395.0 649.0,382.9 649.4,441.9 649.8,370.2 650.0,381.1 650.0,392.4 650.2,368.5 650.3,429.7 651.0,405.3 651.0,374.7 651.4,366.3 651.9,458.5 652.0,381.9 652.0,381.7 652.4,363.0 652.9,435.0 653.0,395.1 653.0,392.2 653.8,453.6 653.9,367.4 654.0,410.3 654.0,396.0 654.7,452.9 654.8,364.5 655.0,381.0 655.0,410.2 655.3,367.4 655.6,454.4 656.0,390.9 656.0,385.9 656.3,445.1 656.4,368.3 656.5,392.5" fill="none" stroke="#1f77b4" stroke-width="1.9" stroke-linejoin="round"/><path d="M80.0,374.7L112.5,374.7 151.8,365.5 174.7,384.0 191.0,385.2 203.6,372.9 213.9,413.2 222.6,392.0 230.2,371.9 236.8,402.4 242.8,376.4 248.2,382.0 253.1,388.4 257.7,382.4 261.8,386.9 265.7,370.7 269.4,368.5 272.8,385.0 276.1,385.0 279.1,373.7 282.0,413.5 284.8,414.2 287.4,381.2 289.9,419.5 292.3,382.0 294.6,385.0 296.9,388.0 299.0,385.0 301.1,382.0 303.0,385.4 305.0,377.0 306.8,377.0 308.6,419.0 310.3,400.0 312.0,385.4 313.7,388.0 315.3,392.0 316.8,400.0 318.3,410.7 319.8,372.0 321.2,378.7 322.6,380.0 324.0,383.7 325.3,383.7 326.6,372.0 327.9,376.0 329.1,378.7 330.4,371.1 331.5,385.0 332.7,400.6 333.9,434.2 335.0,410.0 336.1,393.8 337.2,382.0 338.2,372.0 339.2,372.0 340.3,382.0 341.3,392.0 342.3,387.0 343.2,382.0 344.2,378.0 345.1,376.0 346.0,372.8 346.9,380.0 347.8,390.0 348.7,398.9 349.6,407.5 350.4,368.8 351.3,385.0 352.1,396.3 352.9,409.7 353.7,387.6 354.5,385.5 355.3,392.0 356.0,392.3 356.8,394.6 357.5,385.3 358.3,393.8 359.0,386.5 359.7,414.2 360.4,391.6 361.1,397.2 361.8,374.2 362.5,386.8 363.2,385.7 363.9,389.3 364.5,381.6 365.2,415.5 365.8,399.7 366.5,416.8 367.1,384.3 367.7,387.7 368.4,410.2 369.0,389.8 369.6,383.0 370.2,387.8 370.8,381.3 371.3,382.5 371.9,384.4 372.5,413.0 373.1,399.0 373.6,375.3 374.2,396.5 374.7,373.0 375.3,376.8 375.8,384.1 376.4,381.3 376.9,412.1 377.4,397.1 377.9,404.3 378.5,389.4 379.0,372.5 379.5,365.6 380.0,373.2 380.5,387.5 381.0,433.5 381.5,390.4 381.9,388.8 382.4,370.0 382.9,383.6 383.4,385.2 383.9,382.5 384.3,385.2 384.8,389.7 385.2,382.4 385.7,396.0 386.1,388.8 386.6,378.7 387.0,400.2 387.5,385.8 387.9,388.1 388.3,391.2 388.8,408.6 389.2,375.9 389.6,410.6 390.0,384.5 390.5,390.8 390.9,369.6 391.3,400.8 391.7,395.7 392.1,373.4 392.5,369.3 392.9,385.3 393.3,380.6 393.7,372.0 394.1,383.4 394.5,386.9 394.9,371.2 395.2,391.0 395.6,373.9 396.0,401.6 396.4,387.2 396.8,381.6 397.1,392.8 397.5,380.6 397.9,375.3 398.2,394.2 398.6,370.2 398.9,388.0 399.3,401.1 399.7,400.3 400.0,395.0 400.4,380.9 400.7,389.7 401.1,394.0 401.4,394.1 401.7,387.2 402.1,376.7 402.4,372.7 402.8,403.3 403.1,383.0 403.4,427.5 403.7,390.2 404.1,396.3 404.4,424.2 404.7,372.0 405.0,390.4 405.4,388.6 405.7,395.5 406.0,408.5 406.3,396.5 406.6,417.4 406.9,375.3 407.3,382.2 407.6,417.2 407.9,405.2 408.2,381.1 408.5,387.1 408.8,392.4 409.1,385.6 409.4,392.0 409.7,396.1 410.0,380.3 410.3,369.3 410.6,384.8 410.8,384.8 411.1,393.7 411.4,394.3 411.7,394.7 412.0,380.1 412.3,387.8 412.6,380.6 412.8,374.6 413.1,407.8 413.4,380.9 413.7,383.2 414.0,386.9 414.2,391.1 414.5,394.2 414.8,415.6 415.0,379.5 415.3,400.9 415.6,380.2 415.8,382.0 416.1,382.7 416.4,396.9 416.6,383.9 416.9,379.0 417.2,395.8 417.4,396.8 417.7,388.4 417.9,380.1 418.2,367.9 418.4,407.6 418.7,389.1 418.9,381.3 419.2,383.2 419.4,421.6 419.7,369.9 419.9,379.6 420.2,385.1 420.4,388.6 420.7,370.0 420.9,383.6 421.2,421.8 421.4,395.8 421.6,381.3 421.9,410.4 422.1,402.5 422.4,378.4 422.6,413.6 422.8,391.4 423.1,371.4 423.3,425.6 424.0,381.3 424.2,374.7 424.4,447.6 424.7,397.3 424.9,397.0 425.1,396.3 425.4,387.0 425.6,395.9 425.8,395.6 426.0,389.7 426.5,411.7 426.7,376.2 426.9,389.1 427.1,376.0 427.3,379.9 428.0,370.3 428.2,398.9 428.4,377.9 428.6,390.6 428.8,383.8 429.0,377.5 429.7,411.7 429.9,389.9 430.1,404.8 430.9,369.1 431.1,371.7 431.7,389.8 431.9,387.9 432.1,399.1 432.3,410.5 432.9,382.5 433.1,378.3 433.9,403.2 434.1,385.2 434.5,379.2 434.6,434.8 434.8,384.0 435.0,404.6 435.8,370.1 436.0,392.2 436.2,381.2 436.7,410.1 436.9,391.2 437.1,396.6 437.8,428.0 438.0,373.3 438.2,378.9 438.7,435.4 438.9,376.0 439.0,383.1 439.4,400.9 439.9,375.6 440.1,385.3 440.3,420.8 440.8,384.7 441.0,399.1 441.1,377.4 441.5,399.5 442.0,396.5 442.1,384.1 442.8,378.3 443.0,401.4 443.1,382.5 443.6,420.6 443.9,394.0 444.1,376.0 444.9,408.1 445.1,377.7 445.4,442.2 445.8,396.8 446.0,389.4 446.5,373.1 446.6,415.6 446.9,401.6 447.1,400.3 447.7,413.3 448.0,366.2 448.1,388.8 448.4,402.0 448.7,370.8 448.9,390.6 449.0,384.6 449.2,378.0 449.6,412.0 449.9,400.3 450.1,385.2 450.5,403.5 450.9,373.1 451.1,388.5 451.2,414.8 451.8,369.5 451.9,411.1 452.1,402.9 452.6,409.2 452.8,377.7 452.9,380.2 453.0,390.0 453.4,376.1 453.7,402.8 454.0,396.7 454.1,428.7 454.9,375.4 455.1,375.3 455.2,397.7 455.6,371.4 456.0,377.8 456.1,384.3 456.5,368.7 456.9,444.1 457.0,396.5 457.3,403.1 457.7,374.7 457.9,387.5 458.0,386.5 458.5,408.6 458.7,377.3 458.9,390.3 459.0,379.4 459.5,411.5 459.9,395.3 460.0,378.5 460.1,368.6 460.4,401.5 461.0,372.6 461.1,401.1 461.7,376.7 461.9,384.7 462.0,378.2 463.0,409.0 463.1,430.0 463.2,381.1 463.9,395.2 464.0,392.3 464.2,402.2 464.5,371.3 464.9,386.6 465.0,380.8 465.5,410.4 465.8,377.9 465.9,390.1 466.0,384.8 466.2,416.0 466.8,374.1 467.0,384.9 467.1,387.3 467.6,384.4 467.8,426.8 467.9,385.5 468.0,379.7 469.0,400.4 469.1,388.5 469.3,375.6 469.5,403.8 469.9,401.5 470.0,398.7 470.1,375.8 470.7,415.9 470.9,392.9 471.0,374.6 471.2,368.8 471.5,464.8 471.9,399.2 472.0,376.9 472.9,443.7 473.0,399.0 473.1,394.5 473.2,414.7 473.3,376.8 474.0,378.6 474.1,427.2 474.2,377.7 475.0,383.0 475.1,404.1 475.2,416.7 475.3,374.2 475.9,380.3 476.0,388.6 476.6,369.2 476.8,406.2 476.9,394.2 477.0,386.3 477.5,372.5 477.8,406.1 478.0,378.2 478.1,380.2 478.3,430.1 478.9,373.7 479.0,394.9 479.0,389.6 479.5,362.0 479.7,405.9 480.0,395.9 480.1,414.2 480.2,374.0 480.9,396.9 481.0,402.1 481.1,421.5 481.6,373.3 481.9,381.3 482.0,404.8 482.8,407.8 482.9,374.4 483.0,395.6 483.1,403.5 483.7,419.7 483.8,380.5 484.0,403.3 484.0,387.4 484.9,399.7 485.0,374.7 485.1,396.1 485.2,438.5 485.4,372.7 486.0,374.6 486.1,382.9 486.7,406.1 487.0,374.0 487.1,379.5 487.4,402.2 487.8,371.6 488.0,379.7 488.0,390.7 488.2,418.1 488.3,372.5 489.0,397.5 489.1,386.0 489.2,401.4 489.6,378.2 490.0,390.3 490.1,403.3 490.6,373.5 491.0,383.6 491.1,396.0 491.1,385.2 491.3,424.1 492.0,401.8 492.0,390.3 492.2,371.0 492.6,405.8 493.0,387.3 493.1,407.5 493.4,372.0 493.7,437.9 493.9,392.2 494.0,405.2 494.3,424.6 495.0,374.5 495.1,388.8 495.5,396.7 495.8,368.8 496.0,370.5 496.0,394.9 496.1,420.3 496.2,379.3 497.0,385.3 497.1,385.7 497.4,407.4 497.9,371.2 498.0,388.3 498.1,411.9 498.4,373.4 498.6,421.3 499.0,382.3 499.0,373.5 499.5,367.8 499.7,459.6 499.9,386.6 500.0,395.5 500.1,419.9 500.5,370.8 501.0,393.5 501.0,407.3 501.5,371.1 502.0,401.6 502.0,371.9 502.5,425.9 503.0,379.8 503.0,377.4 503.1,447.8 503.7,371.7 503.9,385.8 504.0,378.4 504.1,367.3 504.9,409.0 505.0,426.7 505.1,374.7 506.0,396.8 506.0,399.0 506.3,378.2 507.0,410.0 507.0,406.1 507.2,365.0 507.8,426.8 508.0,388.0 508.0,425.8 508.2,375.7 509.0,385.1 509.0,384.3 509.2,369.5 509.4,444.3 510.0,379.1 510.0,397.3 510.4,425.4 510.5,365.1 511.0,391.4 511.0,386.3 511.2,423.1 511.9,371.3 512.0,389.9 512.0,393.4 512.7,406.6 513.0,379.7 513.0,375.2 513.3,373.4 513.4,413.8 514.0,381.2 514.0,411.4 514.1,372.1 515.0,442.5 515.0,378.1 515.2,426.7 515.9,370.9 516.0,406.3 516.0,383.2 516.4,373.4 517.0,437.9 517.0,400.2 517.3,369.1 517.6,430.5 518.0,395.8 518.0,388.5 518.2,375.9 518.3,445.9 519.0,409.1 519.0,393.2 519.8,373.7 519.9,431.9 520.0,392.5 520.0,396.4 520.2,434.6 520.8,373.6 521.0,381.0 521.0,410.0 521.4,377.7 521.6,431.6 522.0,386.3 522.0,375.0 522.1,423.2 522.2,371.5 523.0,416.3 523.0,387.5 523.4,373.3 523.9,422.2 524.0,420.4 524.0,392.4 524.5,451.8 524.6,373.0 525.0,412.8 525.0,378.3 525.2,373.7 525.8,433.8 526.0,405.8 526.0,405.7 526.7,434.1 526.9,376.3 527.0,410.4 527.0,398.7 527.6,433.1 527.8,374.4 528.0,393.5 528.0,379.8 528.6,373.8 528.7,432.8 529.0,380.0 529.0,378.2 529.2,369.2 530.0,432.0 530.0,424.7 530.0,374.6 530.8,368.0 530.9,423.7 531.0,378.6 531.0,381.7 531.8,370.7 531.9,432.2 532.0,383.4 532.0,383.4 532.3,441.7 532.8,369.7 533.0,396.1 533.0,395.1 533.5,373.6 533.5,426.6 534.0,403.3 534.0,387.3 534.5,426.2 535.0,375.2 535.0,389.3 535.2,451.3 535.9,367.7 536.0,382.9 536.0,384.4 536.1,410.6 536.8,374.6 537.0,377.8 537.0,389.0 537.2,370.1 537.8,428.5 538.0,378.9 538.0,385.4 538.6,418.6 538.7,370.6 539.0,391.7 539.0,373.0 539.3,425.5 539.8,370.1 540.0,388.4 540.0,397.2 540.6,363.8 540.9,422.4 541.0,383.9 541.0,411.4 541.0,438.6 541.3,371.1 542.0,382.0 542.0,386.7 542.3,410.0 542.5,375.0 543.0,406.0 543.0,405.5 543.2,368.1 543.4,420.0 544.0,390.3 544.0,372.4 544.3,367.6 544.7,428.2 545.0,400.3 545.0,385.0 545.3,438.6 545.9,374.0 546.0,386.0 546.0,389.8 546.7,373.7 546.9,433.3 547.0,398.4 547.0,375.3 547.5,416.2 547.8,369.3 548.0,377.5 548.0,384.7 548.5,370.2 548.5,418.3 549.0,399.9 549.0,412.5 549.5,368.7 549.9,434.1 550.0,378.0 550.0,379.7 550.0,372.0 550.8,446.5 551.0,385.2 551.0,382.9 551.4,416.0 552.0,366.7 552.0,371.0 552.0,379.8 552.0,437.6 552.7,363.2 553.0,385.2 553.0,401.6 553.3,417.3 553.5,374.3 554.0,385.7 554.0,391.0 554.3,420.1 554.7,365.1 555.0,374.4 555.0,377.5 555.3,445.6 555.6,376.0 556.0,384.2 556.0,389.9 556.4,435.2 556.6,370.4 557.0,391.0 557.0,410.3 557.6,420.4 558.0,369.1 558.0,405.1 558.0,399.7 558.1,423.4 558.9,370.2 559.0,402.8 559.0,381.2 559.1,426.6 559.7,371.9 560.0,417.1 560.0,400.8 560.1,426.8 560.3,367.0 561.0,395.7 561.0,376.8 561.1,443.3 561.2,365.2 562.0,382.0 562.0,406.6 562.5,427.4 562.7,366.0 563.0,380.1 563.0,411.1 563.7,423.1 563.9,371.8 564.0,384.1 564.0,399.8 564.6,371.3 564.9,441.3 565.0,376.5 565.0,381.9 565.3,366.4 565.6,417.0 566.0,401.1 566.0,418.1 566.4,371.7 566.7,430.9 567.0,388.3 567.0,401.6 567.1,425.4 567.8,364.9 568.0,371.4 568.0,392.8 568.4,368.9 568.7,420.3 569.0,398.0 569.0,393.9 569.2,429.5 569.3,369.7 570.0,375.3 570.0,374.6 570.5,370.3 570.8,442.7 571.0,415.3 571.0,396.9 571.1,438.5 571.5,372.9 572.0,403.4 572.0,386.4 572.4,428.2 572.8,369.9 573.0,398.2 573.0,385.0 573.7,456.3 573.7,370.7 574.0,374.7 574.0,376.2 574.1,457.6 574.7,366.9 575.0,390.3 575.0,384.1 575.6,435.2 576.0,366.7 576.0,394.3 576.0,383.8 576.3,437.2 576.7,367.4 577.0,381.3 577.0,396.5 577.1,419.2 577.4,369.9 578.0,398.4 578.0,384.8 578.4,443.8 578.9,366.4 579.0,413.0 579.0,396.3 579.2,372.6 579.4,451.1 580.0,397.6 580.0,390.6 580.1,368.9 580.2,436.6 581.0,426.9 581.0,426.7 581.5,373.5 581.6,445.1 582.0,399.7 582.0,402.1 582.1,372.4 582.5,444.8 583.0,383.5 583.0,388.1 583.4,364.4 583.9,486.0 584.0,402.6 584.0,387.4 584.1,360.7 584.4,422.1 585.0,398.0 585.0,377.8 585.3,365.6 585.9,428.0 586.0,382.3 586.0,414.4 586.1,431.8 586.7,365.4 587.0,411.5 587.0,382.0 587.2,427.6 587.5,369.4 588.0,377.6 588.0,373.6 588.2,435.6 589.0,369.5 589.0,404.1 589.1,437.2 589.5,371.3 590.0,386.7 590.0,389.2 590.0,453.4 590.6,370.7 591.0,440.2 591.0,384.7 591.2,433.3 591.9,369.6 592.0,383.7 592.0,402.5 592.5,373.3 592.8,437.1 593.0,374.3 593.0,387.4 593.2,368.4 593.3,454.9 594.0,381.6 594.0,375.5 594.1,366.1 594.3,444.4 595.0,388.6 595.0,393.4 595.1,424.3 595.4,370.6 596.0,381.6 596.0,377.4 596.6,369.3 596.8,434.1 597.0,386.5 597.0,380.5 597.6,460.2 597.8,367.6 598.0,373.9 598.0,383.4 598.0,429.0 598.3,365.7 599.0,381.8 599.0,375.5 599.4,366.7 599.6,427.3 600.0,396.4 600.0,395.8 600.0,443.2 600.9,369.6 601.0,397.8 601.0,389.2 601.7,363.5 601.7,468.1 602.0,381.9 602.0,390.5 602.2,371.3 602.7,444.8 603.0,385.3 603.0,390.5 603.0,368.9 603.2,443.2 604.0,382.1 604.0,403.7 604.1,482.6 605.0,367.3 605.0,380.8 605.5,444.5 605.9,365.4 606.0,388.7 606.0,372.2 606.3,435.7 606.7,360.6 607.0,393.9 607.0,393.3 607.0,368.2 607.3,452.8 608.0,404.0 608.0,379.5 608.6,364.3 608.9,422.8 609.0,370.2 609.0,408.1 609.0,366.8 609.6,447.9 610.0,379.2 610.0,394.1 610.1,365.9 610.3,429.9 611.0,400.1 611.0,391.9 611.1,366.6 611.9,455.9 612.0,419.2 612.0,421.4 612.3,437.6 612.6,371.9 613.0,407.7 613.0,367.5 613.1,365.2 613.8,432.7 614.0,405.8 614.0,385.5 614.1,366.0 614.7,424.3 615.0,371.7 615.0,367.8 615.9,429.6 616.0,378.3 616.0,396.3 616.2,455.1 616.6,365.8 617.0,392.8 617.0,412.3 617.6,371.8 617.7,429.6 618.0,383.2 618.0,406.2 618.6,458.3 618.7,368.7 619.0,372.6 619.0,388.0 619.7,364.6 619.9,442.3 620.0,385.5 620.0,388.1 620.6,369.6 620.7,458.5 621.0,374.6 621.0,381.5 621.2,429.9 621.8,365.2 622.0,384.1 622.0,395.3 622.1,440.4 622.6,362.9 623.0,410.3 623.0,410.4 623.3,455.8 623.7,371.2 624.0,381.1 624.0,389.8 624.7,454.2 624.8,366.3 625.0,374.5 625.0,394.4 625.1,433.4 625.5,366.7 626.0,373.0 626.0,395.9 626.2,367.9 626.8,463.2 627.0,395.4 627.0,391.3 627.1,368.5 627.7,467.1 628.0,382.8 628.0,378.7 628.5,463.0 629.0,372.0 629.0,391.3 629.0,375.5 629.7,435.6 629.9,363.9 630.0,407.2 630.0,395.2 630.4,460.9 630.7,369.6 631.0,391.4 631.0,394.4 631.1,368.6 631.3,469.2 632.0,394.7 632.0,393.5 632.1,452.2 633.0,364.6 633.0,380.6 633.0,371.7 633.4,369.1 633.5,463.1 634.0,382.7 634.0,394.5 634.8,367.2 634.9,430.3 635.0,422.7 635.0,425.4 635.8,366.8 635.9,434.3 636.0,382.3 636.0,418.0 636.3,367.4 636.3,441.8 637.0,398.2 637.0,385.9 637.6,362.0 637.6,456.5 638.0,384.2 638.0,391.5 638.4,453.8 638.8,366.0 639.0,399.4 639.0,380.8 639.1,367.4 639.6,485.5 640.0,379.0 640.0,388.9 640.3,363.7 640.9,446.8 641.0,407.0 641.0,428.3 641.8,459.5 641.8,366.4 642.0,389.6 642.0,376.0 642.3,362.6 642.5,427.1 643.0,399.0 643.0,391.6 643.6,462.5 643.7,363.7 644.0,389.5 644.0,388.6 644.1,362.9 644.8,462.5 645.0,413.5 645.0,386.0 645.1,370.3 645.9,443.0 646.0,393.6 646.0,382.0 646.6,454.5 646.7,367.6 647.0,391.0 647.0,388.0 647.7,438.7 647.9,366.2 648.0,377.6 648.0,402.4 648.3,446.0 648.4,366.3 649.0,407.5 649.0,387.6 649.6,439.4 649.9,369.6 650.0,395.6 650.0,392.7 650.3,367.7 650.9,444.7 651.0,379.7 651.0,387.9 651.5,366.4 652.0,450.3 652.0,389.4 652.0,403.2 652.2,452.6 652.2,366.1 653.0,396.0 653.0,387.6 653.0,444.7 653.6,365.6 654.0,376.9 654.0,410.3 654.2,453.4 654.5,368.5 655.0,389.8 655.0,393.3 655.7,443.3 655.8,366.9 656.0,388.4 656.0,396.1 656.2,367.5 656.4,429.2 656.5,388.2" fill="none" stroke="#ff7f0e" stroke-width="1.9" stroke-linejoin="round" stroke-opacity="0.5"/></g>
<rect x="85.50" y="264.30" width="598.10" height="198.66" fill="none" stroke="#000" stroke-width="2.3"/>
<line x1="75.10" y1="462.96" x2="85.50" y2="462.96" stroke="#000" stroke-width="2.1" />
<line x1="75.10" y1="413.32" x2="85.50" y2="413.32" stroke="#000" stroke-width="2.1" />
<line x1="75.10" y1="363.68" x2="85.50" y2="363.68" stroke="#000" stroke-width="2.1" />
<line x1="75.10" y1="314.04" x2="85.50" y2="314.04" stroke="#000" stroke-width="2.1" />
<line x1="75.10" y1="264.40" x2="85.50" y2="264.40" stroke="#000" stroke-width="2.1" />
<line x1="122.86" y1="462.96" x2="122.86" y2="468.16" stroke="#000" stroke-width="1.5" />
<line x1="145.80" y1="462.96" x2="145.80" y2="468.16" stroke="#000" stroke-width="1.5" />
<line x1="162.07" y1="462.96" x2="162.07" y2="468.16" stroke="#000" stroke-width="1.5" />
<line x1="174.70" y1="462.96" x2="174.70" y2="468.16" stroke="#000" stroke-width="1.5" />
<line x1="185.01" y1="462.96" x2="185.01" y2="468.16" stroke="#000" stroke-width="1.5" />
<line x1="193.73" y1="462.96" x2="193.73" y2="468.16" stroke="#000" stroke-width="1.5" />
<line x1="201.29" y1="462.96" x2="201.29" y2="468.16" stroke="#000" stroke-width="1.5" />
<line x1="207.95" y1="462.96" x2="207.95" y2="468.16" stroke="#000" stroke-width="1.5" />
<line x1="213.91" y1="462.96" x2="213.91" y2="472.46" stroke="#000" stroke-width="2.1" />
<line x1="253.12" y1="462.96" x2="253.12" y2="468.16" stroke="#000" stroke-width="1.5" />
<line x1="276.06" y1="462.96" x2="276.06" y2="468.16" stroke="#000" stroke-width="1.5" />
<line x1="292.33" y1="462.96" x2="292.33" y2="468.16" stroke="#000" stroke-width="1.5" />
<line x1="304.96" y1="462.96" x2="304.96" y2="468.16" stroke="#000" stroke-width="1.5" />
<line x1="315.27" y1="462.96" x2="315.27" y2="468.16" stroke="#000" stroke-width="1.5" />
<line x1="323.99" y1="462.96" x2="323.99" y2="468.16" stroke="#000" stroke-width="1.5" />
<line x1="331.55" y1="462.96" x2="331.55" y2="468.16" stroke="#000" stroke-width="1.5" />
<line x1="338.21" y1="462.96" x2="338.21" y2="468.16" stroke="#000" stroke-width="1.5" />
<line x1="344.17" y1="462.96" x2="344.17" y2="472.46" stroke="#000" stroke-width="2.1" />
<line x1="383.38" y1="462.96" x2="383.38" y2="468.16" stroke="#000" stroke-width="1.5" />
<line x1="406.32" y1="462.96" x2="406.32" y2="468.16" stroke="#000" stroke-width="1.5" />
<line x1="422.59" y1="462.96" x2="422.59" y2="468.16" stroke="#000" stroke-width="1.5" />
<line x1="435.22" y1="462.96" x2="435.22" y2="468.16" stroke="#000" stroke-width="1.5" />
<line x1="445.53" y1="462.96" x2="445.53" y2="468.16" stroke="#000" stroke-width="1.5" />
<line x1="454.25" y1="462.96" x2="454.25" y2="468.16" stroke="#000" stroke-width="1.5" />
<line x1="461.81" y1="462.96" x2="461.81" y2="468.16" stroke="#000" stroke-width="1.5" />
<line x1="468.47" y1="462.96" x2="468.47" y2="468.16" stroke="#000" stroke-width="1.5" />
<line x1="474.43" y1="462.96" x2="474.43" y2="472.46" stroke="#000" stroke-width="2.1" />
<line x1="513.64" y1="462.96" x2="513.64" y2="468.16" stroke="#000" stroke-width="1.5" />
<line x1="536.58" y1="462.96" x2="536.58" y2="468.16" stroke="#000" stroke-width="1.5" />
<line x1="552.85" y1="462.96" x2="552.85" y2="468.16" stroke="#000" stroke-width="1.5" />
<line x1="565.48" y1="462.96" x2="565.48" y2="468.16" stroke="#000" stroke-width="1.5" />
<line x1="575.79" y1="462.96" x2="575.79" y2="468.16" stroke="#000" stroke-width="1.5" />
<line x1="584.51" y1="462.96" x2="584.51" y2="468.16" stroke="#000" stroke-width="1.5" />
<line x1="592.07" y1="462.96" x2="592.07" y2="468.16" stroke="#000" stroke-width="1.5" />
<line x1="598.73" y1="462.96" x2="598.73" y2="468.16" stroke="#000" stroke-width="1.5" />
<line x1="604.69" y1="462.96" x2="604.69" y2="472.46" stroke="#000" stroke-width="2.1" />
<line x1="643.90" y1="462.96" x2="643.90" y2="468.16" stroke="#000" stroke-width="1.5" />
<line x1="666.84" y1="462.96" x2="666.84" y2="468.16" stroke="#000" stroke-width="1.5" />
<line x1="683.11" y1="462.96" x2="683.11" y2="468.16" stroke="#000" stroke-width="1.5" />
<g clip-path="url(#ca)"><line x1="112.90" y1="82.20" x2="596.64" y2="220.46" stroke="#000" stroke-width="1.9" stroke-opacity="0.5" stroke-dasharray="15.7 7.0"/></g>
<line x1="171.00" y1="52.80" x2="213.80" y2="52.80" stroke="#000" stroke-width="1.8" />
<line x1="171.00" y1="156.80" x2="212.90" y2="156.80" stroke="#000" stroke-width="1.8" />
<line x1="187.40" y1="104.80" x2="187.40" y2="61.10" stroke="#000" stroke-width="1.7" /><path d="M187.40,53.60L183.50,61.10L191.30,61.10Z" fill="#000" stroke="#000" stroke-width="0.6" stroke-linejoin="miter"/>
<line x1="187.40" y1="104.80" x2="187.40" y2="148.50" stroke="#000" stroke-width="1.7" /><path d="M187.40,156.00L191.30,148.50L183.50,148.50Z" fill="#000" stroke="#000" stroke-width="0.6" stroke-linejoin="miter"/>
<line x1="266.90" y1="39.20" x2="228.93" y2="47.41" stroke="#000" stroke-width="1.7" /><path d="M221.60,49.00L229.76,51.23L228.11,43.60Z" fill="#000" stroke="#000" stroke-width="0.6" stroke-linejoin="miter"/>
<line x1="339.90" y1="90.70" x2="297.06" y2="121.98" stroke="#000" stroke-width="1.7" /><path d="M291.00,126.40L299.36,125.13L294.76,118.83Z" fill="#000" stroke="#000" stroke-width="0.6" stroke-linejoin="miter"/>
<text x="272.25" y="43.75" font-size="16.9" font-weight="normal" textLength="68.17" lengthAdjust="spacingAndGlyphs" fill="#000" >CEP Mod.</text>
<text x="119.96" y="136.00" font-size="22.4" font-weight="normal" textLength="11.86" lengthAdjust="spacingAndGlyphs" fill="#000" >≈</text>
<text x="135.92" y="133.70" font-size="17.9" font-weight="normal" textLength="21.50" lengthAdjust="spacingAndGlyphs" fill="#000" >40</text>
<text x="161.19" y="133.70" font-size="18.4" font-weight="normal" textLength="21.76" lengthAdjust="spacingAndGlyphs" fill="#000" >dB</text>
<path d="M349.15,89.20V78.00" stroke="#000" stroke-width="1.5" fill="none"/><path d="M349.60,78.10L346.30,80.08" stroke="#000" stroke-width="1.42" fill="none" stroke-linecap="butt"/>
<text x="352.80" y="89.40" font-size="16.4" font-weight="normal" textLength="5.86" lengthAdjust="spacingAndGlyphs" fill="#000" >/</text>
<text x="359.18" y="89.20" font-size="16.4" font-weight="normal" textLength="5.87" lengthAdjust="spacingAndGlyphs" fill="#000" >f</text>
<text x="364.21" y="83.70" font-size="10.4" font-weight="normal" textLength="13.69" lengthAdjust="spacingAndGlyphs" fill="#000" >3/4</text>
<text x="311.00" y="14.00" font-size="19" font-weight="normal" textLength="146.72" lengthAdjust="spacingAndGlyphs" fill="#000" >Antenna Network</text>
<text x="292.28" y="256.80" font-size="19" font-weight="normal" textLength="176.02" lengthAdjust="spacingAndGlyphs" fill="#000" >Pyroelectric Detector</text>
<text x="309.36" y="529.00" font-size="19" font-weight="normal" textLength="123.73" lengthAdjust="spacingAndGlyphs" fill="#000" >Frequency (Hz)</text>
<text transform="translate(14.00,176.30) rotate(-90)" x="0" y="0" font-size="19" textLength="113.28" lengthAdjust="spacingAndGlyphs">Amplitude (e)</text>
<text transform="translate(18.00,432.00) rotate(-90)" x="0" y="0" font-size="19" textLength="113.07" lengthAdjust="spacingAndGlyphs">Amplitude (e)</text>
<path d="M39.15,226.86V215.66" stroke="#000" stroke-width="1.5" fill="none"/><path d="M39.60,215.76L36.20,217.74" stroke="#000" stroke-width="1.42" fill="none" stroke-linecap="butt"/><text x="44.43" y="226.86" font-size="16.4" font-weight="normal" textLength="9.25" lengthAdjust="spacingAndGlyphs" fill="#000" >0</text><text x="55.75" y="220.16" font-size="11.0" font-weight="normal" textLength="6.21" lengthAdjust="spacingAndGlyphs" fill="#000" >0</text>
<path d="M43.75,177.22V166.02" stroke="#000" stroke-width="1.5" fill="none"/><path d="M44.20,166.12L40.80,168.10" stroke="#000" stroke-width="1.42" fill="none" stroke-linecap="butt"/><text x="49.03" y="177.22" font-size="16.4" font-weight="normal" textLength="9.25" lengthAdjust="spacingAndGlyphs" fill="#000" >0</text><path d="M64.12,170.52V163.02" stroke="#000" stroke-width="1.15" fill="none"/><path d="M64.47,163.12L62.80,164.36" stroke="#000" stroke-width="1.09" fill="none" stroke-linecap="butt"/>
<path d="M39.15,127.58V116.38" stroke="#000" stroke-width="1.5" fill="none"/><path d="M39.60,116.48L36.20,118.46" stroke="#000" stroke-width="1.42" fill="none" stroke-linecap="butt"/><text x="44.43" y="127.58" font-size="16.4" font-weight="normal" textLength="9.25" lengthAdjust="spacingAndGlyphs" fill="#000" >0</text><text x="55.62" y="120.88" font-size="11.0" font-weight="normal" textLength="6.48" lengthAdjust="spacingAndGlyphs" fill="#000" >2</text>
<path d="M43.75,77.94V66.74" stroke="#000" stroke-width="1.5" fill="none"/><path d="M44.20,66.84L40.80,68.82" stroke="#000" stroke-width="1.42" fill="none" stroke-linecap="butt"/><text x="49.03" y="77.94" font-size="16.4" font-weight="normal" textLength="9.25" lengthAdjust="spacingAndGlyphs" fill="#000" >0</text><text x="60.35" y="71.24" font-size="11.0" font-weight="normal" textLength="6.27" lengthAdjust="spacingAndGlyphs" fill="#000" >3</text>
<path d="M39.15,28.30V17.10" stroke="#000" stroke-width="1.5" fill="none"/><path d="M39.60,17.20L36.20,19.18" stroke="#000" stroke-width="1.42" fill="none" stroke-linecap="butt"/><text x="44.43" y="28.30" font-size="16.4" font-weight="normal" textLength="9.25" lengthAdjust="spacingAndGlyphs" fill="#000" >0</text><text x="55.94" y="21.60" font-size="11.0" font-weight="normal" textLength="5.90" lengthAdjust="spacingAndGlyphs" fill="#000" >4</text>
<path d="M39.15,469.36V458.16" stroke="#000" stroke-width="1.5" fill="none"/><path d="M39.60,458.26L36.20,460.24" stroke="#000" stroke-width="1.42" fill="none" stroke-linecap="butt"/><text x="44.43" y="469.36" font-size="16.4" font-weight="normal" textLength="9.25" lengthAdjust="spacingAndGlyphs" fill="#000" >0</text><text x="55.75" y="462.66" font-size="11.0" font-weight="normal" textLength="6.21" lengthAdjust="spacingAndGlyphs" fill="#000" >0</text>
<path d="M39.15,419.72V408.52" stroke="#000" stroke-width="1.5" fill="none"/><path d="M39.60,408.62L36.20,410.60" stroke="#000" stroke-width="1.42" fill="none" stroke-linecap="butt"/><text x="44.43" y="419.72" font-size="16.4" font-weight="normal" textLength="9.25" lengthAdjust="spacingAndGlyphs" fill="#000" >0</text><path d="M59.52,413.02V405.52" stroke="#000" stroke-width="1.15" fill="none"/><path d="M59.87,405.62L58.20,406.86" stroke="#000" stroke-width="1.09" fill="none" stroke-linecap="butt"/>
<path d="M39.15,370.08V358.88" stroke="#000" stroke-width="1.5" fill="none"/><path d="M39.60,358.98L36.20,360.96" stroke="#000" stroke-width="1.42" fill="none" stroke-linecap="butt"/><text x="44.43" y="370.08" font-size="16.4" font-weight="normal" textLength="9.25" lengthAdjust="spacingAndGlyphs" fill="#000" >0</text><text x="55.62" y="363.38" font-size="11.0" font-weight="normal" textLength="6.48" lengthAdjust="spacingAndGlyphs" fill="#000" >2</text>
<path d="M39.15,320.44V309.24" stroke="#000" stroke-width="1.5" fill="none"/><path d="M39.60,309.34L36.20,311.32" stroke="#000" stroke-width="1.42" fill="none" stroke-linecap="butt"/><text x="44.43" y="320.44" font-size="16.4" font-weight="normal" textLength="9.25" lengthAdjust="spacingAndGlyphs" fill="#000" >0</text><text x="55.75" y="313.74" font-size="11.0" font-weight="normal" textLength="6.27" lengthAdjust="spacingAndGlyphs" fill="#000" >3</text>
<path d="M39.15,270.80V259.60" stroke="#000" stroke-width="1.5" fill="none"/><path d="M39.60,259.70L36.20,261.68" stroke="#000" stroke-width="1.42" fill="none" stroke-linecap="butt"/><text x="44.43" y="270.80" font-size="16.4" font-weight="normal" textLength="9.25" lengthAdjust="spacingAndGlyphs" fill="#000" >0</text><text x="55.94" y="264.10" font-size="11.0" font-weight="normal" textLength="5.90" lengthAdjust="spacingAndGlyphs" fill="#000" >4</text>
<path d="M203.41,497.50V486.30" stroke="#000" stroke-width="1.5" fill="none"/><path d="M203.86,486.40L200.46,488.38" stroke="#000" stroke-width="1.42" fill="none" stroke-linecap="butt"/><text x="208.69" y="497.50" font-size="16.4" font-weight="normal" textLength="9.25" lengthAdjust="spacingAndGlyphs" fill="#000" >0</text><path d="M223.79,490.80V483.30" stroke="#000" stroke-width="1.15" fill="none"/><path d="M224.13,483.40L222.46,484.64" stroke="#000" stroke-width="1.09" fill="none" stroke-linecap="butt"/>
<path d="M333.67,497.50V486.30" stroke="#000" stroke-width="1.5" fill="none"/><path d="M334.12,486.40L330.72,488.38" stroke="#000" stroke-width="1.42" fill="none" stroke-linecap="butt"/><text x="338.95" y="497.50" font-size="16.4" font-weight="normal" textLength="9.25" lengthAdjust="spacingAndGlyphs" fill="#000" >0</text><text x="350.14" y="490.80" font-size="11.0" font-weight="normal" textLength="6.48" lengthAdjust="spacingAndGlyphs" fill="#000" >2</text>
<path d="M463.93,497.50V486.30" stroke="#000" stroke-width="1.5" fill="none"/><path d="M464.38,486.40L460.98,488.38" stroke="#000" stroke-width="1.42" fill="none" stroke-linecap="butt"/><text x="469.21" y="497.50" font-size="16.4" font-weight="normal" textLength="9.25" lengthAdjust="spacingAndGlyphs" fill="#000" >0</text><text x="480.53" y="490.80" font-size="11.0" font-weight="normal" textLength="6.27" lengthAdjust="spacingAndGlyphs" fill="#000" >3</text>
<path d="M594.19,497.50V486.30" stroke="#000" stroke-width="1.5" fill="none"/><path d="M594.64,486.40L591.24,488.38" stroke="#000" stroke-width="1.42" fill="none" stroke-linecap="butt"/><text x="599.47" y="497.50" font-size="16.4" font-weight="normal" textLength="9.25" lengthAdjust="spacingAndGlyphs" fill="#000" >0</text><text x="610.97" y="490.80" font-size="11.0" font-weight="normal" textLength="5.90" lengthAdjust="spacingAndGlyphs" fill="#000" >4</text>
<rect x="546.3" y="33.00" width="123.8" height="51.4" fill="#fff" fill-opacity="0.8" stroke="#000" stroke-width="1.7" stroke-linejoin="round"/><line x1="565.00" y1="44.50" x2="604.70" y2="44.50" stroke="#1f77b4" stroke-width="4.6" /><line x1="565.00" y1="69.50" x2="604.70" y2="69.50" stroke="#ff7f0e" stroke-width="4.6" stroke-opacity="0.5"/><text x="615.59" y="50.60" font-size="16.4" font-weight="normal" textLength="44.04" lengthAdjust="spacingAndGlyphs" fill="#000" >Signal</text><text x="615.53" y="75.60" font-size="16.4" font-weight="normal" textLength="40.51" lengthAdjust="spacingAndGlyphs" fill="#000" >Noise</text>
<rect x="546.3" y="274.05" width="123.8" height="51.4" fill="#fff" fill-opacity="0.8" stroke="#000" stroke-width="1.7" stroke-linejoin="round"/><line x1="565.00" y1="285.55" x2="604.70" y2="285.55" stroke="#1f77b4" stroke-width="4.6" /><line x1="565.00" y1="310.55" x2="604.70" y2="310.55" stroke="#ff7f0e" stroke-width="4.6" stroke-opacity="0.5"/><text x="615.59" y="291.65" font-size="16.4" font-weight="normal" textLength="44.04" lengthAdjust="spacingAndGlyphs" fill="#000" >Signal</text><text x="615.53" y="316.65" font-size="16.4" font-weight="normal" textLength="40.51" lengthAdjust="spacingAndGlyphs" fill="#000" >Noise</text>
<text x="93.28" y="52.50" font-size="35" font-weight="bold" textLength="17.05" lengthAdjust="spacingAndGlyphs" fill="#000" stroke="#000" stroke-width="0.7">a</text>
<text x="93.06" y="300.20" font-size="33.6" font-weight="bold" textLength="21.05" lengthAdjust="spacingAndGlyphs" fill="#000" stroke="#000" stroke-width="0.7">b</text>
</svg></body></html>
